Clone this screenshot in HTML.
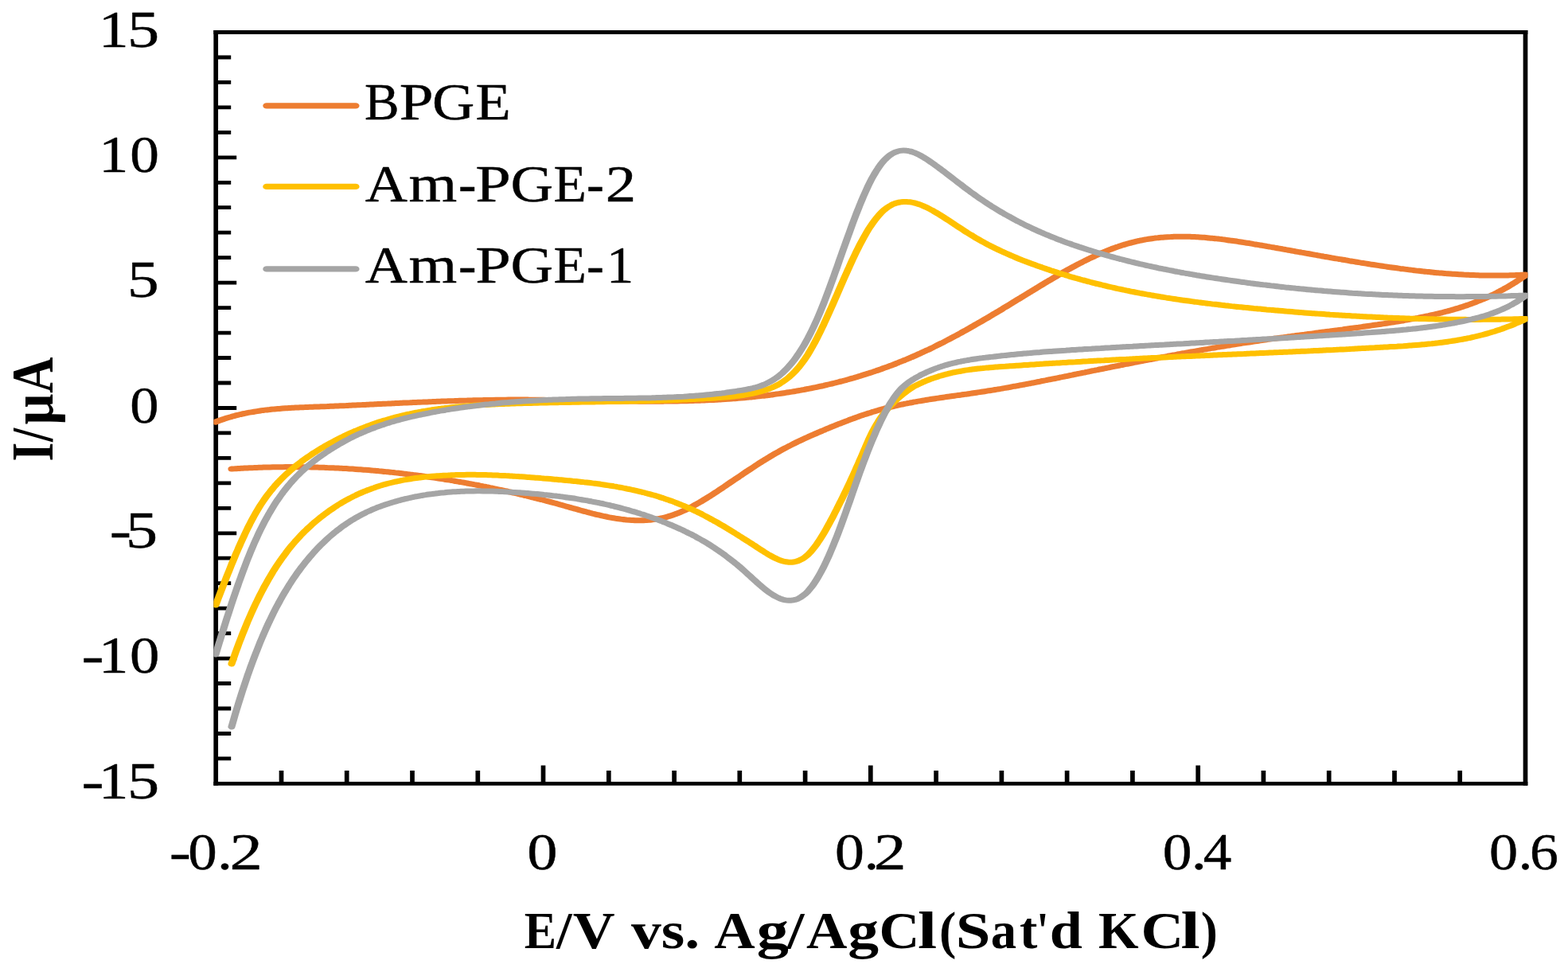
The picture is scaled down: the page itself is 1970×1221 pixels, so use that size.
<!DOCTYPE html>
<html lang="en"><head><meta charset="utf-8"><title>Cyclic voltammograms</title>
<style>html,body{margin:0;padding:0;background:#fff}svg{display:block;filter:blur(0.55px)}</style></head>
<body>
<svg width="1970" height="1221" viewBox="0 0 1970 1221">
<rect width="1970" height="1221" fill="#fff"/>
<path d="M268.35 40.5H1919.35M268.35 984.4H1919.35" stroke="#000" stroke-width="4.9" fill="none"/>
<path d="M271.2 38.05V986.85M1916.5 38.05V986.85" stroke="#000" stroke-width="5.7" fill="none"/>
<path d="M271.2 72.0h19M271.2 103.4h19M271.2 134.9h19M271.2 166.4h19M271.2 197.8h26M271.2 229.3h19M271.2 260.7h19M271.2 292.2h19M271.2 323.7h19M271.2 355.1h26M271.2 386.6h19M271.2 418.1h19M271.2 449.5h19M271.2 481.0h19M271.2 512.5h26M271.2 543.9h19M271.2 575.4h19M271.2 606.8h19M271.2 638.3h19M271.2 669.8h26M271.2 701.2h19M271.2 732.7h19M271.2 764.2h19M271.2 795.6h19M271.2 827.1h26M271.2 858.5h19M271.2 890.0h19M271.2 921.5h19M271.2 952.9h19" stroke="#000" stroke-width="4.8" fill="none"/>
<path d="M353.5 984.4v-16.5M435.7 984.4v-16.5M518.0 984.4v-16.5M600.3 984.4v-16.5M682.5 984.4v-23M764.8 984.4v-16.5M847.1 984.4v-16.5M929.3 984.4v-16.5M1011.6 984.4v-16.5M1093.8 984.4v-23M1176.1 984.4v-16.5M1258.4 984.4v-16.5M1340.6 984.4v-16.5M1422.9 984.4v-16.5M1505.2 984.4v-23M1587.4 984.4v-16.5M1669.7 984.4v-16.5M1752.0 984.4v-16.5M1834.2 984.4v-16.5" stroke="#000" stroke-width="5.7" fill="none"/>
<defs><clipPath id="cp"><rect x="268.35" y="38.05" width="1651.00" height="948.80"/></clipPath></defs>
<g clip-path="url(#cp)"><g transform="scale(1.3 1)" fill="none" stroke-width="7.0" stroke-linecap="round" stroke-linejoin="round">
<path stroke="#ED7D31" d="M208.5 530.0C209.5 529.5 210.5 529.0 211.5 528.5C212.6 528.0 213.6 527.6 214.6 527.1C215.6 526.7 216.7 526.2 217.7 525.8C218.7 525.4 219.7 524.9 220.8 524.5C221.8 524.1 222.8 523.8 223.8 523.4C224.9 523.0 225.9 522.6 226.9 522.3C227.9 521.9 229.0 521.6 230.0 521.3C231.0 521.0 232.1 520.6 233.1 520.3C234.1 520.0 235.1 519.7 236.2 519.5C237.2 519.2 238.2 518.9 239.2 518.6C240.3 518.4 241.3 518.1 242.3 517.9C243.3 517.7 244.4 517.4 245.4 517.2C246.4 517.0 247.4 516.8 248.5 516.6C249.5 516.4 250.5 516.2 251.5 516.0C252.6 515.8 253.6 515.6 254.6 515.4C255.6 515.3 256.7 515.1 257.7 514.9C258.7 514.8 259.7 514.6 260.8 514.5C261.8 514.3 262.8 514.2 263.8 514.1C264.9 513.9 265.9 513.8 266.9 513.7C267.9 513.6 269.0 513.5 270.0 513.4C271.0 513.3 272.1 513.2 273.1 513.1C274.1 513.0 275.1 512.9 276.2 512.8C277.2 512.7 278.2 512.6 279.2 512.5C280.3 512.5 281.3 512.4 282.3 512.3C283.3 512.2 284.4 512.2 285.4 512.1C286.4 512.0 287.4 512.0 288.5 511.9C289.5 511.8 290.5 511.8 291.5 511.7C292.6 511.7 293.6 511.6 294.6 511.6C295.6 511.5 296.7 511.5 297.7 511.4C298.7 511.4 299.7 511.3 300.8 511.3C301.8 511.2 302.8 511.2 303.8 511.1C304.9 511.1 305.9 511.0 306.9 511.0C307.9 510.9 309.0 510.9 310.0 510.8C311.0 510.8 312.1 510.7 313.1 510.7C314.1 510.6 315.1 510.5 316.2 510.5C317.2 510.4 318.2 510.4 319.2 510.3C320.3 510.3 321.3 510.2 322.3 510.2C323.3 510.1 324.4 510.1 325.4 510.0C326.4 509.9 327.4 509.9 328.5 509.8C329.5 509.8 330.5 509.7 331.5 509.7C332.6 509.6 333.6 509.5 334.6 509.5C335.6 509.4 336.7 509.4 337.7 509.3C338.7 509.2 339.7 509.2 340.8 509.1C341.8 509.1 342.8 509.0 343.8 508.9C344.9 508.9 345.9 508.8 346.9 508.8C347.9 508.7 349.0 508.6 350.0 508.6C351.0 508.5 352.1 508.4 353.1 508.4C354.1 508.3 355.1 508.3 356.2 508.2C357.2 508.1 358.2 508.1 359.2 508.0C360.3 507.9 361.3 507.9 362.3 507.8C363.3 507.8 364.4 507.7 365.4 507.6C366.4 507.6 367.4 507.5 368.5 507.4C369.5 507.4 370.5 507.3 371.5 507.3C372.6 507.2 373.6 507.1 374.6 507.1C375.6 507.0 376.7 506.9 377.7 506.9C378.7 506.8 379.7 506.8 380.8 506.7C381.8 506.6 382.8 506.6 383.8 506.5C384.9 506.4 385.9 506.4 386.9 506.3C387.9 506.3 389.0 506.2 390.0 506.1C391.0 506.1 392.1 506.0 393.1 506.0C394.1 505.9 395.1 505.8 396.2 505.8C397.2 505.7 398.2 505.7 399.2 505.6C400.3 505.5 401.3 505.5 402.3 505.4C403.3 505.4 404.4 505.3 405.4 505.3C406.4 505.2 407.4 505.1 408.5 505.1C409.5 505.0 410.5 505.0 411.5 504.9C412.6 504.9 413.6 504.8 414.6 504.7C415.6 504.7 416.7 504.6 417.7 504.6C418.7 504.5 419.7 504.5 420.8 504.4C421.8 504.4 422.8 504.3 423.8 504.3C424.9 504.2 425.9 504.2 426.9 504.1C427.9 504.1 429.0 504.0 430.0 504.0C431.0 503.9 432.1 503.9 433.1 503.8C434.1 503.8 435.1 503.7 436.2 503.7C437.2 503.6 438.2 503.6 439.2 503.6C440.3 503.5 441.3 503.5 442.3 503.4C443.3 503.4 444.4 503.3 445.4 503.3C446.4 503.3 447.4 503.2 448.5 503.2C449.5 503.1 450.5 503.1 451.5 503.1C452.6 503.0 453.6 503.0 454.6 503.0C455.6 502.9 456.7 502.9 457.7 502.8C458.7 502.8 459.7 502.8 460.8 502.8C461.8 502.7 462.8 502.7 463.8 502.7C464.9 502.6 465.9 502.6 466.9 502.6C467.9 502.5 469.0 502.5 470.0 502.5C471.0 502.5 472.1 502.4 473.1 502.4C474.1 502.4 475.1 502.4 476.2 502.4C477.2 502.3 478.2 502.3 479.2 502.3C480.3 502.3 481.3 502.3 482.3 502.2C483.3 502.2 484.4 502.2 485.4 502.2C486.4 502.2 487.4 502.2 488.5 502.2C489.5 502.2 490.5 502.2 491.5 502.1C492.6 502.1 493.6 502.1 494.6 502.1C495.6 502.1 496.7 502.1 497.7 502.1C498.7 502.1 499.7 502.1 500.8 502.1C501.8 502.1 502.8 502.1 503.8 502.1C504.9 502.1 505.9 502.1 506.9 502.1C507.9 502.1 509.0 502.1 510.0 502.1C511.0 502.1 512.1 502.2 513.1 502.2C514.1 502.2 515.1 502.2 516.2 502.2C517.2 502.2 518.2 502.2 519.2 502.2C520.3 502.2 521.3 502.2 522.3 502.3C523.3 502.3 524.4 502.3 525.4 502.3C526.4 502.3 527.4 502.3 528.5 502.4C529.5 502.4 530.5 502.4 531.5 502.4C532.6 502.4 533.6 502.4 534.6 502.5C535.6 502.5 536.7 502.5 537.7 502.5C538.7 502.5 539.7 502.6 540.8 502.6C541.8 502.6 542.8 502.6 543.8 502.7C544.9 502.7 545.9 502.7 546.9 502.7C547.9 502.7 549.0 502.8 550.0 502.8C551.0 502.8 552.1 502.8 553.1 502.9C554.1 502.9 555.1 502.9 556.2 502.9C557.2 503.0 558.2 503.0 559.2 503.0C560.3 503.0 561.3 503.1 562.3 503.1C563.3 503.1 564.4 503.1 565.4 503.2C566.4 503.2 567.4 503.2 568.5 503.2C569.5 503.3 570.5 503.3 571.5 503.3C572.6 503.3 573.6 503.4 574.6 503.4C575.6 503.4 576.7 503.4 577.7 503.5C578.7 503.5 579.7 503.5 580.8 503.5C581.8 503.6 582.8 503.6 583.8 503.6C584.9 503.6 585.9 503.6 586.9 503.7C587.9 503.7 589.0 503.7 590.0 503.7C591.0 503.8 592.1 503.8 593.1 503.8C594.1 503.8 595.1 503.8 596.2 503.9C597.2 503.9 598.2 503.9 599.2 503.9C600.3 503.9 601.3 503.9 602.3 504.0C603.3 504.0 604.4 504.0 605.4 504.0C606.4 504.0 607.4 504.0 608.5 504.1C609.5 504.1 610.5 504.1 611.5 504.1C612.6 504.1 613.6 504.1 614.6 504.1C615.6 504.1 616.7 504.1 617.7 504.2C618.7 504.2 619.7 504.2 620.8 504.2C621.8 504.2 622.8 504.2 623.8 504.2C624.9 504.2 625.9 504.2 626.9 504.2C627.9 504.2 629.0 504.2 630.0 504.2C631.0 504.2 632.1 504.2 633.1 504.2C634.1 504.2 635.1 504.2 636.2 504.2C637.2 504.2 638.2 504.2 639.2 504.2C640.3 504.2 641.3 504.1 642.3 504.1C643.3 504.1 644.4 504.1 645.4 504.1C646.4 504.1 647.4 504.1 648.5 504.0C649.5 504.0 650.5 504.0 651.5 504.0C652.6 504.0 653.6 503.9 654.6 503.9C655.6 503.9 656.7 503.9 657.7 503.8C658.7 503.8 659.7 503.8 660.8 503.8C661.8 503.7 662.8 503.7 663.8 503.7C664.9 503.6 665.9 503.6 666.9 503.6C667.9 503.5 669.0 503.5 670.0 503.4C671.0 503.4 672.1 503.3 673.1 503.3C674.1 503.3 675.1 503.2 676.2 503.2C677.2 503.1 678.2 503.1 679.2 503.0C680.3 502.9 681.3 502.9 682.3 502.8C683.3 502.8 684.4 502.7 685.4 502.6C686.4 502.6 687.4 502.5 688.5 502.4C689.5 502.4 690.5 502.3 691.5 502.2C692.6 502.2 693.6 502.1 694.6 502.0C695.6 501.9 696.7 501.9 697.7 501.8C698.7 501.7 699.7 501.6 700.8 501.5C701.8 501.4 702.8 501.3 703.8 501.3C704.9 501.2 705.9 501.1 706.9 501.0C707.9 500.9 709.0 500.8 710.0 500.7C711.0 500.6 712.1 500.5 713.1 500.3C714.1 500.2 715.1 500.1 716.2 500.0C717.2 499.9 718.2 499.8 719.2 499.7C720.3 499.5 721.3 499.4 722.3 499.3C723.3 499.2 724.4 499.0 725.4 498.9C726.4 498.8 727.4 498.6 728.5 498.5C729.5 498.4 730.5 498.2 731.5 498.1C732.6 497.9 733.6 497.8 734.6 497.6C735.6 497.5 736.7 497.3 737.7 497.2C738.7 497.0 739.7 496.9 740.8 496.7C741.8 496.5 742.8 496.4 743.8 496.2C744.9 496.0 745.9 495.9 746.9 495.7C747.9 495.5 749.0 495.3 750.0 495.1C751.0 495.0 752.1 494.8 753.1 494.6C754.1 494.4 755.1 494.2 756.2 494.0C757.2 493.8 758.2 493.6 759.2 493.4C760.3 493.2 761.3 493.0 762.3 492.8C763.3 492.6 764.4 492.3 765.4 492.1C766.4 491.9 767.4 491.7 768.5 491.5C769.5 491.2 770.5 491.0 771.5 490.8C772.6 490.5 773.6 490.3 774.6 490.0C775.6 489.8 776.7 489.6 777.7 489.3C778.7 489.1 779.7 488.8 780.8 488.5C781.8 488.3 782.8 488.0 783.8 487.8C784.9 487.5 785.9 487.2 786.9 486.9C787.9 486.7 789.0 486.4 790.0 486.1C791.0 485.8 792.1 485.5 793.1 485.2C794.1 485.0 795.1 484.7 796.2 484.4C797.2 484.1 798.2 483.7 799.2 483.4C800.3 483.1 801.3 482.8 802.3 482.5C803.3 482.2 804.4 481.9 805.4 481.5C806.4 481.2 807.4 480.9 808.5 480.5C809.5 480.2 810.5 479.9 811.5 479.5C812.6 479.2 813.6 478.8 814.6 478.5C815.6 478.1 816.7 477.8 817.7 477.4C818.7 477.0 819.7 476.7 820.8 476.3C821.8 475.9 822.8 475.5 823.8 475.2C824.9 474.8 825.9 474.4 826.9 474.0C827.9 473.6 829.0 473.2 830.0 472.8C831.0 472.4 832.1 472.0 833.1 471.6C834.1 471.2 835.1 470.8 836.2 470.3C837.2 469.9 838.2 469.5 839.2 469.1C840.3 468.6 841.3 468.2 842.3 467.8C843.3 467.3 844.4 466.9 845.4 466.4C846.4 466.0 847.4 465.5 848.5 465.1C849.5 464.6 850.5 464.1 851.5 463.7C852.6 463.2 853.6 462.7 854.6 462.2C855.6 461.7 856.7 461.3 857.7 460.8C858.7 460.3 859.7 459.8 860.8 459.3C861.8 458.8 862.8 458.3 863.8 457.8C864.9 457.3 865.9 456.7 866.9 456.2C867.9 455.7 869.0 455.2 870.0 454.6C871.0 454.1 872.1 453.6 873.1 453.0C874.1 452.5 875.1 451.9 876.2 451.4C877.2 450.8 878.2 450.3 879.2 449.7C880.3 449.1 881.3 448.5 882.3 448.0C883.3 447.4 884.4 446.8 885.4 446.2C886.4 445.6 887.4 445.0 888.5 444.4C889.5 443.8 890.5 443.2 891.5 442.6C892.6 442.0 893.6 441.4 894.6 440.8C895.6 440.2 896.7 439.5 897.7 438.9C898.7 438.3 899.7 437.6 900.8 437.0C901.8 436.4 902.8 435.7 903.8 435.0C904.9 434.4 905.9 433.7 906.9 433.1C907.9 432.4 909.0 431.7 910.0 431.1C911.0 430.4 912.1 429.7 913.1 429.0C914.1 428.3 915.1 427.6 916.2 426.9C917.2 426.2 918.2 425.5 919.2 424.8C920.3 424.1 921.3 423.4 922.3 422.7C923.3 422.0 924.4 421.3 925.4 420.6C926.4 419.8 927.4 419.1 928.5 418.4C929.5 417.6 930.5 416.9 931.5 416.2C932.6 415.4 933.6 414.7 934.6 413.9C935.6 413.2 936.7 412.4 937.7 411.7C938.7 410.9 939.7 410.2 940.8 409.4C941.8 408.7 942.8 407.9 943.8 407.1C944.9 406.4 945.9 405.6 946.9 404.8C947.9 404.1 949.0 403.3 950.0 402.5C951.0 401.7 952.1 400.9 953.1 400.2C954.1 399.4 955.1 398.6 956.2 397.8C957.2 397.0 958.2 396.2 959.2 395.4C960.3 394.6 961.3 393.8 962.3 393.1C963.3 392.3 964.4 391.5 965.4 390.7C966.4 389.9 967.4 389.1 968.5 388.3C969.5 387.4 970.5 386.6 971.5 385.8C972.6 385.0 973.6 384.2 974.6 383.4C975.6 382.6 976.7 381.8 977.7 381.0C978.7 380.2 979.7 379.4 980.8 378.5C981.8 377.7 982.8 376.9 983.8 376.1C984.9 375.3 985.9 374.5 986.9 373.7C987.9 372.8 989.0 372.0 990.0 371.2C991.0 370.4 992.1 369.6 993.1 368.8C994.1 367.9 995.1 367.1 996.2 366.3C997.2 365.5 998.2 364.7 999.2 363.9C1000.3 363.1 1001.3 362.3 1002.3 361.4C1003.3 360.6 1004.4 359.8 1005.4 359.0C1006.4 358.2 1007.4 357.4 1008.5 356.6C1009.5 355.8 1010.5 355.0 1011.5 354.2C1012.6 353.4 1013.6 352.6 1014.6 351.9C1015.6 351.1 1016.7 350.3 1017.7 349.5C1018.7 348.7 1019.7 347.9 1020.8 347.2C1021.8 346.4 1022.8 345.6 1023.8 344.9C1024.9 344.1 1025.9 343.3 1026.9 342.6C1027.9 341.8 1029.0 341.1 1030.0 340.3C1031.0 339.6 1032.1 338.8 1033.1 338.1C1034.1 337.4 1035.1 336.7 1036.2 335.9C1037.2 335.2 1038.2 334.5 1039.2 333.8C1040.3 333.1 1041.3 332.4 1042.3 331.7C1043.3 331.0 1044.4 330.3 1045.4 329.6C1046.4 328.9 1047.4 328.3 1048.5 327.6C1049.5 326.9 1050.5 326.3 1051.5 325.6C1052.6 325.0 1053.6 324.3 1054.6 323.7C1055.6 323.1 1056.7 322.5 1057.7 321.8C1058.7 321.2 1059.7 320.6 1060.8 320.0C1061.8 319.4 1062.8 318.8 1063.8 318.3C1064.9 317.7 1065.9 317.1 1066.9 316.6C1067.9 316.0 1069.0 315.5 1070.0 314.9C1071.0 314.4 1072.1 313.9 1073.1 313.4C1074.1 312.8 1075.1 312.3 1076.2 311.9C1077.2 311.4 1078.2 310.9 1079.2 310.4C1080.3 310.0 1081.3 309.5 1082.3 309.1C1083.3 308.6 1084.4 308.2 1085.4 307.8C1086.4 307.3 1087.4 306.9 1088.5 306.6C1089.5 306.2 1090.5 305.8 1091.5 305.4C1092.6 305.1 1093.6 304.7 1094.6 304.4C1095.6 304.0 1096.7 303.7 1097.7 303.4C1098.7 303.1 1099.7 302.8 1100.8 302.5C1101.8 302.2 1102.8 301.9 1103.8 301.7C1104.9 301.4 1105.9 301.2 1106.9 300.9C1107.9 300.7 1109.0 300.5 1110.0 300.3C1111.0 300.1 1112.1 299.9 1113.1 299.7C1114.1 299.5 1115.1 299.3 1116.2 299.1C1117.2 299.0 1118.2 298.8 1119.2 298.7C1120.3 298.5 1121.3 298.4 1122.3 298.3C1123.3 298.2 1124.4 298.1 1125.4 298.0C1126.4 297.9 1127.4 297.8 1128.5 297.7C1129.5 297.6 1130.5 297.5 1131.5 297.5C1132.6 297.4 1133.6 297.4 1134.6 297.3C1135.6 297.3 1136.7 297.2 1137.7 297.2C1138.7 297.2 1139.7 297.2 1140.8 297.2C1141.8 297.2 1142.8 297.2 1143.8 297.2C1144.9 297.2 1145.9 297.2 1146.9 297.2C1147.9 297.3 1149.0 297.3 1150.0 297.3C1151.0 297.4 1152.1 297.4 1153.1 297.5C1154.1 297.6 1155.1 297.6 1156.2 297.7C1157.2 297.8 1158.2 297.8 1159.2 297.9C1160.3 298.0 1161.3 298.1 1162.3 298.2C1163.3 298.3 1164.4 298.4 1165.4 298.5C1166.4 298.6 1167.4 298.8 1168.5 298.9C1169.5 299.0 1170.5 299.1 1171.5 299.3C1172.6 299.4 1173.6 299.6 1174.6 299.7C1175.6 299.8 1176.7 300.0 1177.7 300.1C1178.7 300.3 1179.7 300.5 1180.8 300.6C1181.8 300.8 1182.8 301.0 1183.8 301.1C1184.9 301.3 1185.9 301.5 1186.9 301.7C1187.9 301.9 1189.0 302.0 1190.0 302.2C1191.0 302.4 1192.1 302.6 1193.1 302.8C1194.1 303.0 1195.1 303.2 1196.2 303.4C1197.2 303.6 1198.2 303.8 1199.2 304.0C1200.3 304.2 1201.3 304.4 1202.3 304.6C1203.3 304.9 1204.4 305.1 1205.4 305.3C1206.4 305.5 1207.4 305.7 1208.5 305.9C1209.5 306.2 1210.5 306.4 1211.5 306.6C1212.6 306.8 1213.6 307.1 1214.6 307.3C1215.6 307.5 1216.7 307.7 1217.7 308.0C1218.7 308.2 1219.7 308.4 1220.8 308.6C1221.8 308.9 1222.8 309.1 1223.8 309.3C1224.9 309.6 1225.9 309.8 1226.9 310.0C1227.9 310.3 1229.0 310.5 1230.0 310.7C1231.0 311.0 1232.1 311.2 1233.1 311.4C1234.1 311.7 1235.1 311.9 1236.2 312.1C1237.2 312.4 1238.2 312.6 1239.2 312.8C1240.3 313.1 1241.3 313.3 1242.3 313.5C1243.3 313.8 1244.4 314.0 1245.4 314.3C1246.4 314.5 1247.4 314.7 1248.5 315.0C1249.5 315.2 1250.5 315.4 1251.5 315.7C1252.6 315.9 1253.6 316.2 1254.6 316.4C1255.6 316.6 1256.7 316.9 1257.7 317.1C1258.7 317.3 1259.7 317.6 1260.8 317.8C1261.8 318.1 1262.8 318.3 1263.8 318.5C1264.9 318.8 1265.9 319.0 1266.9 319.2C1267.9 319.5 1269.0 319.7 1270.0 320.0C1271.0 320.2 1272.1 320.4 1273.1 320.7C1274.1 320.9 1275.1 321.1 1276.2 321.4C1277.2 321.6 1278.2 321.9 1279.2 322.1C1280.3 322.3 1281.3 322.6 1282.3 322.8C1283.3 323.0 1284.4 323.3 1285.4 323.5C1286.4 323.7 1287.4 324.0 1288.5 324.2C1289.5 324.4 1290.5 324.7 1291.5 324.9C1292.6 325.1 1293.6 325.3 1294.6 325.6C1295.6 325.8 1296.7 326.0 1297.7 326.3C1298.7 326.5 1299.7 326.7 1300.8 326.9C1301.8 327.2 1302.8 327.4 1303.8 327.6C1304.9 327.8 1305.9 328.1 1306.9 328.3C1307.9 328.5 1309.0 328.7 1310.0 329.0C1311.0 329.2 1312.1 329.4 1313.1 329.6C1314.1 329.8 1315.1 330.0 1316.2 330.3C1317.2 330.5 1318.2 330.7 1319.2 330.9C1320.3 331.1 1321.3 331.3 1322.3 331.5C1323.3 331.7 1324.4 332.0 1325.4 332.2C1326.4 332.4 1327.4 332.6 1328.5 332.8C1329.5 333.0 1330.5 333.2 1331.5 333.4C1332.6 333.6 1333.6 333.8 1334.6 334.0C1335.6 334.2 1336.7 334.4 1337.7 334.6C1338.7 334.8 1339.7 335.0 1340.8 335.2C1341.8 335.4 1342.8 335.5 1343.8 335.7C1344.9 335.9 1345.9 336.1 1346.9 336.3C1347.9 336.5 1349.0 336.7 1350.0 336.8C1351.0 337.0 1352.1 337.2 1353.1 337.4C1354.1 337.5 1355.1 337.7 1356.2 337.9C1357.2 338.1 1358.2 338.2 1359.2 338.4C1360.3 338.6 1361.3 338.7 1362.3 338.9C1363.3 339.1 1364.4 339.2 1365.4 339.4C1366.4 339.6 1367.4 339.7 1368.5 339.9C1369.5 340.0 1370.5 340.2 1371.5 340.3C1372.6 340.5 1373.6 340.6 1374.6 340.8C1375.6 340.9 1376.7 341.1 1377.7 341.2C1378.7 341.3 1379.7 341.5 1380.8 341.6C1381.8 341.7 1382.8 341.9 1383.8 342.0C1384.9 342.1 1385.9 342.3 1386.9 342.4C1387.9 342.5 1389.0 342.6 1390.0 342.8C1391.0 342.9 1392.1 343.0 1393.1 343.1C1394.1 343.2 1395.1 343.3 1396.2 343.4C1397.2 343.5 1398.2 343.7 1399.2 343.8C1400.3 343.9 1401.3 344.0 1402.3 344.1C1403.3 344.2 1404.4 344.2 1405.4 344.3C1406.4 344.4 1407.4 344.5 1408.5 344.6C1409.5 344.7 1410.5 344.8 1411.5 344.8C1412.6 344.9 1413.6 345.0 1414.6 345.1C1415.6 345.1 1416.7 345.2 1417.7 345.3C1418.7 345.3 1419.7 345.4 1420.8 345.4C1421.8 345.5 1422.8 345.6 1423.8 345.6C1424.9 345.7 1425.9 345.7 1426.9 345.7C1427.9 345.8 1429.0 345.8 1430.0 345.9C1431.0 345.9 1432.1 345.9 1433.1 346.0C1434.1 346.0 1435.1 346.0 1436.2 346.0C1437.2 346.1 1438.2 346.1 1439.2 346.1C1440.3 346.1 1441.3 346.1 1442.3 346.1C1443.3 346.1 1444.4 346.1 1445.4 346.1C1446.4 346.1 1447.4 346.1 1448.5 346.1C1449.5 346.1 1450.5 346.1 1451.5 346.1C1452.6 346.1 1453.6 346.0 1454.6 346.0C1455.6 346.0 1456.7 346.0 1457.7 345.9C1458.7 345.9 1459.7 345.8 1460.8 345.8C1461.8 345.8 1462.8 345.7 1463.8 345.7C1464.9 345.6 1465.9 345.6 1466.9 345.5C1467.9 345.4 1469.0 345.4 1470.0 345.3C1471.0 345.2 1472.1 345.2 1473.1 345.1C1473.5 345.1 1473.8 345.0 1474.2 345.0"/>
<path stroke="#ED7D31" d="M1474.2 346.0C1473.8 346.4 1473.5 346.7 1473.1 347.1C1472.1 348.0 1471.0 348.9 1470.0 349.8C1469.0 350.7 1467.9 351.6 1466.9 352.5C1465.9 353.4 1464.9 354.2 1463.8 355.1C1462.8 355.9 1461.8 356.7 1460.8 357.5C1459.7 358.3 1458.7 359.1 1457.7 359.9C1456.7 360.7 1455.6 361.4 1454.6 362.2C1453.6 362.9 1452.6 363.7 1451.5 364.4C1450.5 365.1 1449.5 365.8 1448.5 366.5C1447.4 367.2 1446.4 367.9 1445.4 368.5C1444.4 369.2 1443.3 369.9 1442.3 370.5C1441.3 371.1 1440.3 371.8 1439.2 372.4C1438.2 373.0 1437.2 373.6 1436.2 374.2C1435.1 374.7 1434.1 375.3 1433.1 375.9C1432.1 376.4 1431.0 377.0 1430.0 377.5C1429.0 378.1 1427.9 378.6 1426.9 379.1C1425.9 379.6 1424.9 380.1 1423.8 380.6C1422.8 381.1 1421.8 381.6 1420.8 382.1C1419.7 382.6 1418.7 383.0 1417.7 383.5C1416.7 384.0 1415.6 384.4 1414.6 384.8C1413.6 385.3 1412.6 385.7 1411.5 386.1C1410.5 386.6 1409.5 387.0 1408.5 387.4C1407.4 387.8 1406.4 388.2 1405.4 388.6C1404.4 388.9 1403.3 389.3 1402.3 389.7C1401.3 390.1 1400.3 390.4 1399.2 390.8C1398.2 391.1 1397.2 391.5 1396.2 391.8C1395.1 392.2 1394.1 392.5 1393.1 392.9C1392.1 393.2 1391.0 393.5 1390.0 393.8C1389.0 394.1 1387.9 394.5 1386.9 394.8C1385.9 395.1 1384.9 395.4 1383.8 395.7C1382.8 396.0 1381.8 396.3 1380.8 396.6C1379.7 396.8 1378.7 397.1 1377.7 397.4C1376.7 397.7 1375.6 398.0 1374.6 398.2C1373.6 398.5 1372.6 398.8 1371.5 399.0C1370.5 399.3 1369.5 399.6 1368.5 399.8C1367.4 400.1 1366.4 400.3 1365.4 400.6C1364.4 400.8 1363.3 401.1 1362.3 401.3C1361.3 401.5 1360.3 401.8 1359.2 402.0C1358.2 402.3 1357.2 402.5 1356.2 402.7C1355.1 402.9 1354.1 403.2 1353.1 403.4C1352.1 403.6 1351.0 403.8 1350.0 404.1C1349.0 404.3 1347.9 404.5 1346.9 404.7C1345.9 404.9 1344.9 405.1 1343.8 405.3C1342.8 405.5 1341.8 405.8 1340.8 406.0C1339.7 406.2 1338.7 406.4 1337.7 406.6C1336.7 406.8 1335.6 407.0 1334.6 407.2C1333.6 407.4 1332.6 407.6 1331.5 407.8C1330.5 407.9 1329.5 408.1 1328.5 408.3C1327.4 408.5 1326.4 408.7 1325.4 408.9C1324.4 409.1 1323.3 409.3 1322.3 409.5C1321.3 409.7 1320.3 409.9 1319.2 410.0C1318.2 410.2 1317.2 410.4 1316.2 410.6C1315.1 410.8 1314.1 411.0 1313.1 411.2C1312.1 411.3 1311.0 411.5 1310.0 411.7C1309.0 411.9 1307.9 412.1 1306.9 412.2C1305.9 412.4 1304.9 412.6 1303.8 412.8C1302.8 413.0 1301.8 413.1 1300.8 413.3C1299.7 413.5 1298.7 413.7 1297.7 413.9C1296.7 414.0 1295.6 414.2 1294.6 414.4C1293.6 414.6 1292.6 414.7 1291.5 414.9C1290.5 415.1 1289.5 415.3 1288.5 415.4C1287.4 415.6 1286.4 415.8 1285.4 416.0C1284.4 416.1 1283.3 416.3 1282.3 416.5C1281.3 416.7 1280.3 416.8 1279.2 417.0C1278.2 417.2 1277.2 417.4 1276.2 417.5C1275.1 417.7 1274.1 417.9 1273.1 418.1C1272.1 418.2 1271.0 418.4 1270.0 418.6C1269.0 418.8 1267.9 418.9 1266.9 419.1C1265.9 419.3 1264.9 419.5 1263.8 419.6C1262.8 419.8 1261.8 420.0 1260.8 420.2C1259.7 420.3 1258.7 420.5 1257.7 420.7C1256.7 420.9 1255.6 421.0 1254.6 421.2C1253.6 421.4 1252.6 421.6 1251.5 421.8C1250.5 421.9 1249.5 422.1 1248.5 422.3C1247.4 422.5 1246.4 422.7 1245.4 422.8C1244.4 423.0 1243.3 423.2 1242.3 423.4C1241.3 423.6 1240.3 423.7 1239.2 423.9C1238.2 424.1 1237.2 424.3 1236.2 424.5C1235.1 424.7 1234.1 424.8 1233.1 425.0C1232.1 425.2 1231.0 425.4 1230.0 425.6C1229.0 425.8 1227.9 426.0 1226.9 426.1C1225.9 426.3 1224.9 426.5 1223.8 426.7C1222.8 426.9 1221.8 427.1 1220.8 427.3C1219.7 427.5 1218.7 427.7 1217.7 427.9C1216.7 428.1 1215.6 428.3 1214.6 428.5C1213.6 428.7 1212.6 428.9 1211.5 429.1C1210.5 429.3 1209.5 429.5 1208.5 429.7C1207.4 429.9 1206.4 430.1 1205.4 430.3C1204.4 430.5 1203.3 430.7 1202.3 430.9C1201.3 431.1 1200.3 431.3 1199.2 431.5C1198.2 431.7 1197.2 431.9 1196.2 432.1C1195.1 432.4 1194.1 432.6 1193.1 432.8C1192.1 433.0 1191.0 433.2 1190.0 433.4C1189.0 433.6 1187.9 433.9 1186.9 434.1C1185.9 434.3 1184.9 434.5 1183.8 434.7C1182.8 434.9 1181.8 435.2 1180.8 435.4C1179.7 435.6 1178.7 435.8 1177.7 436.0C1176.7 436.3 1175.6 436.5 1174.6 436.7C1173.6 436.9 1172.6 437.2 1171.5 437.4C1170.5 437.6 1169.5 437.8 1168.5 438.1C1167.4 438.3 1166.4 438.5 1165.4 438.8C1164.4 439.0 1163.3 439.2 1162.3 439.5C1161.3 439.7 1160.3 439.9 1159.2 440.2C1158.2 440.4 1157.2 440.6 1156.2 440.9C1155.1 441.1 1154.1 441.3 1153.1 441.6C1152.1 441.8 1151.0 442.0 1150.0 442.3C1149.0 442.5 1147.9 442.8 1146.9 443.0C1145.9 443.2 1144.9 443.5 1143.8 443.7C1142.8 444.0 1141.8 444.2 1140.8 444.4C1139.7 444.7 1138.7 444.9 1137.7 445.2C1136.7 445.4 1135.6 445.7 1134.6 445.9C1133.6 446.2 1132.6 446.4 1131.5 446.6C1130.5 446.9 1129.5 447.1 1128.5 447.4C1127.4 447.6 1126.4 447.9 1125.4 448.1C1124.4 448.4 1123.3 448.6 1122.3 448.9C1121.3 449.1 1120.3 449.4 1119.2 449.6C1118.2 449.9 1117.2 450.1 1116.2 450.4C1115.1 450.7 1114.1 450.9 1113.1 451.2C1112.1 451.4 1111.0 451.7 1110.0 451.9C1109.0 452.2 1107.9 452.4 1106.9 452.7C1105.9 453.0 1104.9 453.2 1103.8 453.5C1102.8 453.7 1101.8 454.0 1100.8 454.2C1099.7 454.5 1098.7 454.8 1097.7 455.0C1096.7 455.3 1095.6 455.5 1094.6 455.8C1093.6 456.1 1092.6 456.3 1091.5 456.6C1090.5 456.9 1089.5 457.1 1088.5 457.4C1087.4 457.6 1086.4 457.9 1085.4 458.2C1084.4 458.4 1083.3 458.7 1082.3 459.0C1081.3 459.2 1080.3 459.5 1079.2 459.8C1078.2 460.0 1077.2 460.3 1076.2 460.5C1075.1 460.8 1074.1 461.1 1073.1 461.3C1072.1 461.6 1071.0 461.9 1070.0 462.1C1069.0 462.4 1067.9 462.7 1066.9 463.0C1065.9 463.2 1064.9 463.5 1063.8 463.8C1062.8 464.0 1061.8 464.3 1060.8 464.6C1059.7 464.8 1058.7 465.1 1057.7 465.4C1056.7 465.6 1055.6 465.9 1054.6 466.2C1053.6 466.5 1052.6 466.7 1051.5 467.0C1050.5 467.3 1049.5 467.5 1048.5 467.8C1047.4 468.1 1046.4 468.3 1045.4 468.6C1044.4 468.9 1043.3 469.2 1042.3 469.4C1041.3 469.7 1040.3 470.0 1039.2 470.2C1038.2 470.5 1037.2 470.8 1036.2 471.1C1035.1 471.3 1034.1 471.6 1033.1 471.9C1032.1 472.2 1031.0 472.4 1030.0 472.7C1029.0 473.0 1027.9 473.2 1026.9 473.5C1025.9 473.8 1024.9 474.0 1023.8 474.3C1022.8 474.6 1021.8 474.9 1020.8 475.1C1019.7 475.4 1018.7 475.7 1017.7 475.9C1016.7 476.2 1015.6 476.5 1014.6 476.7C1013.6 477.0 1012.6 477.3 1011.5 477.5C1010.5 477.8 1009.5 478.1 1008.5 478.3C1007.4 478.6 1006.4 478.9 1005.4 479.1C1004.4 479.4 1003.3 479.6 1002.3 479.9C1001.3 480.2 1000.3 480.4 999.2 480.7C998.2 480.9 997.2 481.2 996.2 481.5C995.1 481.7 994.1 482.0 993.1 482.2C992.1 482.5 991.0 482.7 990.0 483.0C989.0 483.2 987.9 483.5 986.9 483.7C985.9 484.0 984.9 484.2 983.8 484.5C982.8 484.7 981.8 485.0 980.8 485.2C979.7 485.5 978.7 485.7 977.7 485.9C976.7 486.2 975.6 486.4 974.6 486.7C973.6 486.9 972.6 487.1 971.5 487.4C970.5 487.6 969.5 487.8 968.5 488.1C967.4 488.3 966.4 488.5 965.4 488.8C964.4 489.0 963.3 489.2 962.3 489.4C961.3 489.7 960.3 489.9 959.2 490.1C958.2 490.3 957.2 490.5 956.2 490.7C955.1 491.0 954.1 491.2 953.1 491.4C952.1 491.6 951.0 491.8 950.0 492.0C949.0 492.2 947.9 492.4 946.9 492.6C945.9 492.8 944.9 493.0 943.8 493.2C942.8 493.4 941.8 493.6 940.8 493.8C939.7 494.0 938.7 494.2 937.7 494.4C936.7 494.6 935.6 494.8 934.6 495.0C933.6 495.1 932.6 495.3 931.5 495.5C930.5 495.7 929.5 495.9 928.5 496.1C927.4 496.3 926.4 496.5 925.4 496.6C924.4 496.8 923.3 497.0 922.3 497.2C921.3 497.4 920.3 497.6 919.2 497.8C918.2 498.0 917.2 498.1 916.2 498.3C915.1 498.5 914.1 498.7 913.1 498.9C912.1 499.1 911.0 499.3 910.0 499.5C909.0 499.7 907.9 499.9 906.9 500.1C905.9 500.3 904.9 500.5 903.8 500.7C902.8 500.9 901.8 501.1 900.8 501.3C899.7 501.5 898.7 501.7 897.7 501.9C896.7 502.1 895.6 502.3 894.6 502.5C893.6 502.8 892.6 503.0 891.5 503.2C890.5 503.4 889.5 503.7 888.5 503.9C887.4 504.1 886.4 504.3 885.4 504.6C884.4 504.8 883.3 505.1 882.3 505.3C881.3 505.6 880.3 505.8 879.2 506.1C878.2 506.3 877.2 506.6 876.2 506.9C875.1 507.1 874.1 507.4 873.1 507.7C872.1 507.9 871.0 508.2 870.0 508.5C869.0 508.8 867.9 509.1 866.9 509.4C865.9 509.7 864.9 510.0 863.8 510.3C862.8 510.6 861.8 510.9 860.8 511.3C859.7 511.6 858.7 511.9 857.7 512.3C856.7 512.6 855.6 512.9 854.6 513.3C853.6 513.6 852.6 514.0 851.5 514.4C850.5 514.7 849.5 515.1 848.5 515.5C847.4 515.9 846.4 516.3 845.4 516.7C844.4 517.1 843.3 517.5 842.3 517.9C841.3 518.3 840.3 518.7 839.2 519.1C838.2 519.6 837.2 520.0 836.2 520.4C835.1 520.9 834.1 521.3 833.1 521.8C832.1 522.2 831.0 522.7 830.0 523.2C829.0 523.6 827.9 524.1 826.9 524.6C825.9 525.1 824.9 525.6 823.8 526.1C822.8 526.6 821.8 527.0 820.8 527.5C819.7 528.1 818.7 528.6 817.7 529.1C816.7 529.6 815.6 530.1 814.6 530.6C813.6 531.1 812.6 531.7 811.5 532.2C810.5 532.7 809.5 533.2 808.5 533.8C807.4 534.3 806.4 534.9 805.4 535.4C804.4 535.9 803.3 536.5 802.3 537.0C801.3 537.6 800.3 538.1 799.2 538.7C798.2 539.2 797.2 539.8 796.2 540.4C795.1 540.9 794.1 541.5 793.1 542.0C792.1 542.6 791.0 543.2 790.0 543.7C789.0 544.3 787.9 544.9 786.9 545.5C785.9 546.1 784.9 546.6 783.8 547.2C782.8 547.8 781.8 548.4 780.8 549.0C779.7 549.6 778.7 550.2 777.7 550.8C776.7 551.4 775.6 552.1 774.6 552.7C773.6 553.3 772.6 553.9 771.5 554.6C770.5 555.2 769.5 555.9 768.5 556.5C767.4 557.2 766.4 557.8 765.4 558.5C764.4 559.2 763.3 559.9 762.3 560.5C761.3 561.2 760.3 561.9 759.2 562.6C758.2 563.3 757.2 564.0 756.2 564.7C755.1 565.5 754.1 566.2 753.1 566.9C752.1 567.7 751.0 568.4 750.0 569.2C749.0 569.9 747.9 570.7 746.9 571.5C745.9 572.3 744.9 573.1 743.8 573.9C742.8 574.7 741.8 575.5 740.8 576.3C739.7 577.1 738.7 577.9 737.7 578.8C736.7 579.6 735.6 580.4 734.6 581.3C733.6 582.1 732.6 583.0 731.5 583.9C730.5 584.7 729.5 585.6 728.5 586.5C727.4 587.3 726.4 588.2 725.4 589.1C724.4 590.0 723.3 590.9 722.3 591.7C721.3 592.6 720.3 593.5 719.2 594.4C718.2 595.3 717.2 596.2 716.2 597.1C715.1 598.0 714.1 598.9 713.1 599.8C712.1 600.7 711.0 601.6 710.0 602.5C709.0 603.4 707.9 604.3 706.9 605.2C705.9 606.1 704.9 607.0 703.8 607.9C702.8 608.8 701.8 609.7 700.8 610.6C699.7 611.5 698.7 612.4 697.7 613.3C696.7 614.2 695.6 615.1 694.6 616.0C693.6 616.9 692.6 617.8 691.5 618.6C690.5 619.5 689.5 620.4 688.5 621.2C687.4 622.1 686.4 622.9 685.4 623.8C684.4 624.6 683.3 625.4 682.3 626.3C681.3 627.1 680.3 627.9 679.2 628.7C678.2 629.5 677.2 630.3 676.2 631.0C675.1 631.8 674.1 632.6 673.1 633.3C672.1 634.1 671.0 634.8 670.0 635.5C669.0 636.2 667.9 636.9 666.9 637.6C665.9 638.3 664.9 639.0 663.8 639.6C662.8 640.3 661.8 640.9 660.8 641.5C659.7 642.1 658.7 642.7 657.7 643.3C656.7 643.8 655.6 644.4 654.6 644.9C653.6 645.4 652.6 645.9 651.5 646.4C650.5 646.9 649.5 647.3 648.5 647.7C647.4 648.2 646.4 648.6 645.4 648.9C644.4 649.3 643.3 649.7 642.3 650.0C641.3 650.3 640.3 650.6 639.2 650.9C638.2 651.2 637.2 651.5 636.2 651.7C635.1 651.9 634.1 652.1 633.1 652.3C632.1 652.5 631.0 652.7 630.0 652.9C629.0 653.0 627.9 653.1 626.9 653.3C625.9 653.4 624.9 653.5 623.8 653.5C622.8 653.6 621.8 653.7 620.8 653.7C619.7 653.7 618.7 653.7 617.7 653.7C616.7 653.7 615.6 653.7 614.6 653.7C613.6 653.7 612.6 653.6 611.5 653.5C610.5 653.5 609.5 653.4 608.5 653.3C607.4 653.2 606.4 653.1 605.4 653.0C604.4 652.8 603.3 652.7 602.3 652.5C601.3 652.4 600.3 652.2 599.2 652.0C598.2 651.9 597.2 651.7 596.2 651.5C595.1 651.3 594.1 651.0 593.1 650.8C592.1 650.6 591.0 650.4 590.0 650.1C589.0 649.9 587.9 649.6 586.9 649.3C585.9 649.1 584.9 648.8 583.8 648.5C582.8 648.2 581.8 647.9 580.8 647.6C579.7 647.3 578.7 647.0 577.7 646.7C576.7 646.4 575.6 646.1 574.6 645.7C573.6 645.4 572.6 645.1 571.5 644.7C570.5 644.4 569.5 644.0 568.5 643.7C567.4 643.3 566.4 643.0 565.4 642.6C564.4 642.3 563.3 641.9 562.3 641.5C561.3 641.2 560.3 640.8 559.2 640.4C558.2 640.1 557.2 639.7 556.2 639.3C555.1 638.9 554.1 638.6 553.1 638.2C552.1 637.8 551.0 637.4 550.0 637.1C549.0 636.7 547.9 636.3 546.9 635.9C545.9 635.5 544.9 635.2 543.8 634.8C542.8 634.4 541.8 634.1 540.8 633.7C539.7 633.3 538.7 633.0 537.7 632.6C536.7 632.2 535.6 631.9 534.6 631.5C533.6 631.1 532.6 630.8 531.5 630.4C530.5 630.1 529.5 629.7 528.5 629.4C527.4 629.0 526.4 628.7 525.4 628.3C524.4 628.0 523.3 627.6 522.3 627.3C521.3 626.9 520.3 626.6 519.2 626.3C518.2 625.9 517.2 625.6 516.2 625.3C515.1 624.9 514.1 624.6 513.1 624.3C512.1 623.9 511.0 623.6 510.0 623.3C509.0 623.0 507.9 622.6 506.9 622.3C505.9 622.0 504.9 621.7 503.8 621.4C502.8 621.0 501.8 620.7 500.8 620.4C499.7 620.1 498.7 619.8 497.7 619.5C496.7 619.2 495.6 618.9 494.6 618.6C493.6 618.2 492.6 617.9 491.5 617.6C490.5 617.3 489.5 617.0 488.5 616.8C487.4 616.5 486.4 616.2 485.4 615.9C484.4 615.6 483.3 615.3 482.3 615.0C481.3 614.7 480.3 614.4 479.2 614.1C478.2 613.9 477.2 613.6 476.2 613.3C475.1 613.0 474.1 612.8 473.1 612.5C472.1 612.2 471.0 611.9 470.0 611.7C469.0 611.4 467.9 611.1 466.9 610.9C465.9 610.6 464.9 610.3 463.8 610.1C462.8 609.8 461.8 609.5 460.8 609.3C459.7 609.0 458.7 608.8 457.7 608.5C456.7 608.3 455.6 608.0 454.6 607.8C453.6 607.5 452.6 607.3 451.5 607.0C450.5 606.8 449.5 606.5 448.5 606.3C447.4 606.1 446.4 605.8 445.4 605.6C444.4 605.4 443.3 605.1 442.3 604.9C441.3 604.7 440.3 604.4 439.2 604.2C438.2 604.0 437.2 603.8 436.2 603.5C435.1 603.3 434.1 603.1 433.1 602.9C432.1 602.7 431.0 602.4 430.0 602.2C429.0 602.0 427.9 601.8 426.9 601.6C425.9 601.4 424.9 601.2 423.8 601.0C422.8 600.8 421.8 600.6 420.8 600.4C419.7 600.2 418.7 600.0 417.7 599.8C416.7 599.6 415.6 599.4 414.6 599.2C413.6 599.0 412.6 598.8 411.5 598.6C410.5 598.4 409.5 598.2 408.5 598.1C407.4 597.9 406.4 597.7 405.4 597.5C404.4 597.3 403.3 597.2 402.3 597.0C401.3 596.8 400.3 596.6 399.2 596.5C398.2 596.3 397.2 596.1 396.2 596.0C395.1 595.8 394.1 595.6 393.1 595.5C392.1 595.3 391.0 595.1 390.0 595.0C389.0 594.8 387.9 594.7 386.9 594.5C385.9 594.4 384.9 594.2 383.8 594.1C382.8 593.9 381.8 593.8 380.8 593.6C379.7 593.5 378.7 593.3 377.7 593.2C376.7 593.1 375.6 592.9 374.6 592.8C373.6 592.7 372.6 592.5 371.5 592.4C370.5 592.3 369.5 592.1 368.5 592.0C367.4 591.9 366.4 591.8 365.4 591.6C364.4 591.5 363.3 591.4 362.3 591.3C361.3 591.2 360.3 591.0 359.2 590.9C358.2 590.8 357.2 590.7 356.2 590.6C355.1 590.5 354.1 590.4 353.1 590.3C352.1 590.2 351.0 590.1 350.0 590.0C349.0 589.9 347.9 589.8 346.9 589.7C345.9 589.6 344.9 589.5 343.8 589.4C342.8 589.3 341.8 589.2 340.8 589.1C339.7 589.1 338.7 589.0 337.7 588.9C336.7 588.8 335.6 588.7 334.6 588.6C333.6 588.6 332.6 588.5 331.5 588.4C330.5 588.3 329.5 588.3 328.5 588.2C327.4 588.1 326.4 588.1 325.4 588.0C324.4 587.9 323.3 587.9 322.3 587.8C321.3 587.8 320.3 587.7 319.2 587.7C318.2 587.6 317.2 587.5 316.2 587.5C315.1 587.4 314.1 587.4 313.1 587.3C312.1 587.3 311.0 587.3 310.0 587.2C309.0 587.2 307.9 587.1 306.9 587.1C305.9 587.1 304.9 587.0 303.8 587.0C302.8 587.0 301.8 586.9 300.8 586.9C299.7 586.9 298.7 586.8 297.7 586.8C296.7 586.8 295.6 586.8 294.6 586.8C293.6 586.7 292.6 586.7 291.5 586.7C290.5 586.7 289.5 586.7 288.5 586.7C287.4 586.7 286.4 586.6 285.4 586.6C284.4 586.6 283.3 586.6 282.3 586.6C281.3 586.6 280.3 586.6 279.2 586.6C278.2 586.6 277.2 586.6 276.2 586.6C275.1 586.7 274.1 586.7 273.1 586.7C272.1 586.7 271.0 586.7 270.0 586.7C269.0 586.7 267.9 586.8 266.9 586.8C265.9 586.8 264.9 586.8 263.8 586.8C262.8 586.9 261.8 586.9 260.8 586.9C259.7 587.0 258.7 587.0 257.7 587.0C256.7 587.1 255.6 587.1 254.6 587.1C253.6 587.2 252.6 587.2 251.5 587.3C250.5 587.3 249.5 587.4 248.5 587.4C247.4 587.5 246.4 587.5 245.4 587.6C244.4 587.6 243.3 587.7 242.3 587.7C241.3 587.8 240.3 587.8 239.2 587.9C238.2 588.0 237.2 588.0 236.2 588.1C235.1 588.2 234.1 588.2 233.1 588.3C232.1 588.4 231.0 588.4 230.0 588.5C229.0 588.6 227.9 588.7 226.9 588.8C225.9 588.8 224.9 588.9 223.8 589.0"/>
<path stroke="#FFC000" d="M208.5 760.0C209.5 756.5 210.5 753.0 211.5 749.6C212.6 746.1 213.6 742.6 214.6 739.2C215.6 735.8 216.7 732.4 217.7 729.0C218.7 725.6 219.7 722.2 220.8 718.9C221.8 715.6 222.8 712.3 223.8 709.0C224.9 705.8 225.9 702.6 226.9 699.4C227.9 696.2 229.0 693.1 230.0 690.0C231.0 686.9 232.1 683.9 233.1 680.9C234.1 678.0 235.1 675.1 236.2 672.2C237.2 669.4 238.2 666.6 239.2 663.9C240.3 661.2 241.3 658.5 242.3 656.0C243.3 653.4 244.4 650.9 245.4 648.5C246.4 646.1 247.4 643.8 248.5 641.5C249.5 639.3 250.5 637.1 251.5 635.0C252.6 632.9 253.6 630.9 254.6 629.0C255.6 627.0 256.7 625.1 257.7 623.3C258.7 621.5 259.7 619.8 260.8 618.1C261.8 616.4 262.8 614.7 263.8 613.2C264.9 611.6 265.9 610.0 266.9 608.6C267.9 607.1 269.0 605.6 270.0 604.2C271.0 602.8 272.1 601.5 273.1 600.2C274.1 598.9 275.1 597.6 276.2 596.3C277.2 595.1 278.2 593.9 279.2 592.7C280.3 591.5 281.3 590.3 282.3 589.2C283.3 588.0 284.4 586.9 285.4 585.8C286.4 584.8 287.4 583.7 288.5 582.7C289.5 581.6 290.5 580.6 291.5 579.6C292.6 578.6 293.6 577.6 294.6 576.7C295.6 575.7 296.7 574.8 297.7 573.9C298.7 573.0 299.7 572.1 300.8 571.2C301.8 570.3 302.8 569.4 303.8 568.6C304.9 567.7 305.9 566.9 306.9 566.0C307.9 565.2 309.0 564.4 310.0 563.6C311.0 562.8 312.1 562.0 313.1 561.2C314.1 560.4 315.1 559.7 316.2 558.9C317.2 558.2 318.2 557.4 319.2 556.7C320.3 555.9 321.3 555.2 322.3 554.5C323.3 553.8 324.4 553.1 325.4 552.4C326.4 551.7 327.4 551.0 328.5 550.4C329.5 549.7 330.5 549.0 331.5 548.4C332.6 547.7 333.6 547.1 334.6 546.5C335.6 545.9 336.7 545.2 337.7 544.6C338.7 544.0 339.7 543.4 340.8 542.8C341.8 542.3 342.8 541.7 343.8 541.1C344.9 540.6 345.9 540.0 346.9 539.4C347.9 538.9 349.0 538.4 350.0 537.8C351.0 537.3 352.1 536.8 353.1 536.3C354.1 535.8 355.1 535.3 356.2 534.8C357.2 534.3 358.2 533.8 359.2 533.3C360.3 532.9 361.3 532.4 362.3 532.0C363.3 531.5 364.4 531.0 365.4 530.6C366.4 530.2 367.4 529.7 368.5 529.3C369.5 528.9 370.5 528.5 371.5 528.1C372.6 527.7 373.6 527.3 374.6 526.9C375.6 526.5 376.7 526.1 377.7 525.8C378.7 525.4 379.7 525.0 380.8 524.7C381.8 524.3 382.8 524.0 383.8 523.6C384.9 523.3 385.9 522.9 386.9 522.6C387.9 522.3 389.0 522.0 390.0 521.7C391.0 521.3 392.1 521.0 393.1 520.7C394.1 520.4 395.1 520.1 396.2 519.9C397.2 519.6 398.2 519.3 399.2 519.0C400.3 518.7 401.3 518.5 402.3 518.2C403.3 518.0 404.4 517.7 405.4 517.5C406.4 517.2 407.4 517.0 408.5 516.7C409.5 516.5 410.5 516.3 411.5 516.1C412.6 515.8 413.6 515.6 414.6 515.4C415.6 515.2 416.7 515.0 417.7 514.8C418.7 514.6 419.7 514.4 420.8 514.2C421.8 514.0 422.8 513.8 423.8 513.6C424.9 513.5 425.9 513.3 426.9 513.1C427.9 513.0 429.0 512.8 430.0 512.6C431.0 512.5 432.1 512.3 433.1 512.2C434.1 512.0 435.1 511.9 436.2 511.7C437.2 511.6 438.2 511.4 439.2 511.3C440.3 511.2 441.3 511.0 442.3 510.9C443.3 510.8 444.4 510.7 445.4 510.6C446.4 510.4 447.4 510.3 448.5 510.2C449.5 510.1 450.5 510.0 451.5 509.9C452.6 509.8 453.6 509.7 454.6 509.6C455.6 509.5 456.7 509.4 457.7 509.3C458.7 509.2 459.7 509.1 460.8 509.0C461.8 509.0 462.8 508.9 463.8 508.8C464.9 508.7 465.9 508.6 466.9 508.6C467.9 508.5 469.0 508.4 470.0 508.4C471.0 508.3 472.1 508.2 473.1 508.2C474.1 508.1 475.1 508.0 476.2 508.0C477.2 507.9 478.2 507.9 479.2 507.8C480.3 507.7 481.3 507.7 482.3 507.6C483.3 507.6 484.4 507.5 485.4 507.5C486.4 507.4 487.4 507.4 488.5 507.3C489.5 507.3 490.5 507.2 491.5 507.2C492.6 507.1 493.6 507.1 494.6 507.1C495.6 507.0 496.7 507.0 497.7 506.9C498.7 506.9 499.7 506.8 500.8 506.8C501.8 506.8 502.8 506.7 503.8 506.7C504.9 506.6 505.9 506.6 506.9 506.6C507.9 506.5 509.0 506.5 510.0 506.5C511.0 506.4 512.1 506.4 513.1 506.4C514.1 506.3 515.1 506.3 516.2 506.3C517.2 506.2 518.2 506.2 519.2 506.2C520.3 506.1 521.3 506.1 522.3 506.1C523.3 506.1 524.4 506.0 525.4 506.0C526.4 506.0 527.4 505.9 528.5 505.9C529.5 505.9 530.5 505.9 531.5 505.8C532.6 505.8 533.6 505.8 534.6 505.8C535.6 505.7 536.7 505.7 537.7 505.7C538.7 505.7 539.7 505.6 540.8 505.6C541.8 505.6 542.8 505.6 543.8 505.5C544.9 505.5 545.9 505.5 546.9 505.5C547.9 505.4 549.0 505.4 550.0 505.4C551.0 505.4 552.1 505.4 553.1 505.3C554.1 505.3 555.1 505.3 556.2 505.3C557.2 505.2 558.2 505.2 559.2 505.2C560.3 505.2 561.3 505.2 562.3 505.1C563.3 505.1 564.4 505.1 565.4 505.1C566.4 505.1 567.4 505.0 568.5 505.0C569.5 505.0 570.5 505.0 571.5 505.0C572.6 504.9 573.6 504.9 574.6 504.9C575.6 504.9 576.7 504.8 577.7 504.8C578.7 504.8 579.7 504.8 580.8 504.8C581.8 504.7 582.8 504.7 583.8 504.7C584.9 504.7 585.9 504.7 586.9 504.6C587.9 504.6 589.0 504.6 590.0 504.6C591.0 504.5 592.1 504.5 593.1 504.5C594.1 504.5 595.1 504.4 596.2 504.4C597.2 504.4 598.2 504.4 599.2 504.4C600.3 504.3 601.3 504.3 602.3 504.3C603.3 504.2 604.4 504.2 605.4 504.2C606.4 504.2 607.4 504.1 608.5 504.1C609.5 504.1 610.5 504.1 611.5 504.0C612.6 504.0 613.6 504.0 614.6 503.9C615.6 503.9 616.7 503.9 617.7 503.8C618.7 503.8 619.7 503.8 620.8 503.8C621.8 503.7 622.8 503.7 623.8 503.7C624.9 503.6 625.9 503.6 626.9 503.5C627.9 503.5 629.0 503.5 630.0 503.4C631.0 503.4 632.1 503.4 633.1 503.3C634.1 503.3 635.1 503.2 636.2 503.2C637.2 503.2 638.2 503.1 639.2 503.1C640.3 503.0 641.3 503.0 642.3 502.9C643.3 502.9 644.4 502.9 645.4 502.8C646.4 502.8 647.4 502.7 648.5 502.7C649.5 502.6 650.5 502.6 651.5 502.5C652.6 502.5 653.6 502.4 654.6 502.4C655.6 502.3 656.7 502.3 657.7 502.2C658.7 502.1 659.7 502.1 660.8 502.0C661.8 502.0 662.8 501.9 663.8 501.9C664.9 501.8 665.9 501.7 666.9 501.7C667.9 501.6 669.0 501.5 670.0 501.5C671.0 501.4 672.1 501.4 673.1 501.3C674.1 501.2 675.1 501.1 676.2 501.1C677.2 501.0 678.2 500.9 679.2 500.9C680.3 500.8 681.3 500.7 682.3 500.6C683.3 500.6 684.4 500.5 685.4 500.4C686.4 500.3 687.4 500.2 688.5 500.2C689.5 500.1 690.5 500.0 691.5 499.9C692.6 499.8 693.6 499.7 694.6 499.6C695.6 499.5 696.7 499.4 697.7 499.3C698.7 499.2 699.7 499.1 700.8 499.0C701.8 498.9 702.8 498.8 703.8 498.7C704.9 498.5 705.9 498.4 706.9 498.3C707.9 498.1 709.0 498.0 710.0 497.8C711.0 497.7 712.1 497.5 713.1 497.3C714.1 497.1 715.1 497.0 716.2 496.8C717.2 496.6 718.2 496.4 719.2 496.2C720.3 495.9 721.3 495.7 722.3 495.5C723.3 495.2 724.4 495.0 725.4 494.7C726.4 494.4 727.4 494.2 728.5 493.9C729.5 493.6 730.5 493.3 731.5 492.9C732.6 492.6 733.6 492.3 734.6 491.9C735.6 491.6 736.7 491.2 737.7 490.8C738.7 490.4 739.7 490.0 740.8 489.5C741.8 489.1 742.8 488.6 743.8 488.1C744.9 487.6 745.9 487.0 746.9 486.4C747.9 485.9 749.0 485.2 750.0 484.6C751.0 483.9 752.1 483.2 753.1 482.4C754.1 481.6 755.1 480.8 756.2 479.9C757.2 479.1 758.2 478.1 759.2 477.1C760.3 476.2 761.3 475.1 762.3 474.0C763.3 472.9 764.4 471.7 765.4 470.4C766.4 469.1 767.4 467.8 768.5 466.4C769.5 465.0 770.5 463.5 771.5 461.9C772.6 460.3 773.6 458.7 774.6 456.9C775.6 455.1 776.7 453.3 777.7 451.4C778.7 449.4 779.7 447.4 780.8 445.3C781.8 443.1 782.8 440.9 783.8 438.6C784.9 436.3 785.9 433.8 786.9 431.4C787.9 428.9 789.0 426.3 790.0 423.7C791.0 421.1 792.1 418.4 793.1 415.6C794.1 412.9 795.1 410.1 796.2 407.2C797.2 404.4 798.2 401.5 799.2 398.6C800.3 395.6 801.3 392.7 802.3 389.7C803.3 386.7 804.4 383.7 805.4 380.6C806.4 377.6 807.4 374.5 808.5 371.5C809.5 368.4 810.5 365.4 811.5 362.3C812.6 359.2 813.6 356.2 814.6 353.2C815.6 350.1 816.7 347.1 817.7 344.1C818.7 341.1 819.7 338.1 820.8 335.2C821.8 332.3 822.8 329.4 823.8 326.5C824.9 323.7 825.9 320.9 826.9 318.1C827.9 315.4 829.0 312.7 830.0 310.0C831.0 307.4 832.1 304.8 833.1 302.4C834.1 299.9 835.1 297.5 836.2 295.1C837.2 292.8 838.2 290.6 839.2 288.4C840.3 286.3 841.3 284.2 842.3 282.3C843.3 280.3 844.4 278.5 845.4 276.7C846.4 275.0 847.4 273.3 848.5 271.7C849.5 270.2 850.5 268.7 851.5 267.4C852.6 266.0 853.6 264.8 854.6 263.6C855.6 262.5 856.7 261.5 857.7 260.5C858.7 259.6 859.7 258.8 860.8 258.1C861.8 257.4 862.8 256.7 863.8 256.2C864.9 255.6 865.9 255.2 866.9 254.8C867.9 254.5 869.0 254.2 870.0 254.0C871.0 253.7 872.1 253.6 873.1 253.5C874.1 253.5 875.1 253.4 876.2 253.5C877.2 253.6 878.2 253.7 879.2 253.8C880.3 254.0 881.3 254.2 882.3 254.5C883.3 254.8 884.4 255.1 885.4 255.5C886.4 255.9 887.4 256.3 888.5 256.8C889.5 257.2 890.5 257.8 891.5 258.3C892.6 258.9 893.6 259.4 894.6 260.1C895.6 260.7 896.7 261.3 897.7 262.0C898.7 262.7 899.7 263.4 900.8 264.1C901.8 264.9 902.8 265.6 903.8 266.4C904.9 267.2 905.9 268.0 906.9 268.8C907.9 269.6 909.0 270.4 910.0 271.3C911.0 272.1 912.1 273.0 913.1 273.8C914.1 274.7 915.1 275.5 916.2 276.4C917.2 277.3 918.2 278.1 919.2 279.0C920.3 279.9 921.3 280.8 922.3 281.7C923.3 282.5 924.4 283.4 925.4 284.3C926.4 285.2 927.4 286.0 928.5 286.9C929.5 287.8 930.5 288.7 931.5 289.5C932.6 290.4 933.6 291.2 934.6 292.1C935.6 292.9 936.7 293.8 937.7 294.6C938.7 295.4 939.7 296.2 940.8 297.0C941.8 297.8 942.8 298.6 943.8 299.4C944.9 300.2 945.9 300.9 946.9 301.7C947.9 302.4 949.0 303.2 950.0 303.9C951.0 304.6 952.1 305.4 953.1 306.1C954.1 306.8 955.1 307.5 956.2 308.2C957.2 308.9 958.2 309.5 959.2 310.2C960.3 310.9 961.3 311.6 962.3 312.2C963.3 312.9 964.4 313.5 965.4 314.1C966.4 314.8 967.4 315.4 968.5 316.0C969.5 316.6 970.5 317.2 971.5 317.8C972.6 318.4 973.6 319.0 974.6 319.6C975.6 320.2 976.7 320.8 977.7 321.3C978.7 321.9 979.7 322.5 980.8 323.0C981.8 323.6 982.8 324.1 983.8 324.7C984.9 325.2 985.9 325.7 986.9 326.3C987.9 326.8 989.0 327.3 990.0 327.8C991.0 328.3 992.1 328.9 993.1 329.4C994.1 329.9 995.1 330.4 996.2 330.9C997.2 331.4 998.2 331.9 999.2 332.3C1000.3 332.8 1001.3 333.3 1002.3 333.8C1003.3 334.3 1004.4 334.7 1005.4 335.2C1006.4 335.7 1007.4 336.1 1008.5 336.6C1009.5 337.1 1010.5 337.5 1011.5 338.0C1012.6 338.4 1013.6 338.9 1014.6 339.3C1015.6 339.8 1016.7 340.2 1017.7 340.6C1018.7 341.1 1019.7 341.5 1020.8 341.9C1021.8 342.4 1022.8 342.8 1023.8 343.2C1024.9 343.6 1025.9 344.0 1026.9 344.5C1027.9 344.9 1029.0 345.3 1030.0 345.7C1031.0 346.1 1032.1 346.5 1033.1 346.9C1034.1 347.3 1035.1 347.7 1036.2 348.1C1037.2 348.4 1038.2 348.8 1039.2 349.2C1040.3 349.6 1041.3 350.0 1042.3 350.3C1043.3 350.7 1044.4 351.1 1045.4 351.5C1046.4 351.8 1047.4 352.2 1048.5 352.5C1049.5 352.9 1050.5 353.3 1051.5 353.6C1052.6 354.0 1053.6 354.3 1054.6 354.7C1055.6 355.0 1056.7 355.3 1057.7 355.7C1058.7 356.0 1059.7 356.4 1060.8 356.7C1061.8 357.0 1062.8 357.3 1063.8 357.7C1064.9 358.0 1065.9 358.3 1066.9 358.6C1067.9 359.0 1069.0 359.3 1070.0 359.6C1071.0 359.9 1072.1 360.2 1073.1 360.5C1074.1 360.8 1075.1 361.1 1076.2 361.4C1077.2 361.7 1078.2 362.0 1079.2 362.3C1080.3 362.6 1081.3 362.9 1082.3 363.2C1083.3 363.5 1084.4 363.8 1085.4 364.0C1086.4 364.3 1087.4 364.6 1088.5 364.9C1089.5 365.1 1090.5 365.4 1091.5 365.7C1092.6 366.0 1093.6 366.2 1094.6 366.5C1095.6 366.7 1096.7 367.0 1097.7 367.3C1098.7 367.5 1099.7 367.8 1100.8 368.0C1101.8 368.3 1102.8 368.5 1103.8 368.8C1104.9 369.0 1105.9 369.3 1106.9 369.5C1107.9 369.8 1109.0 370.0 1110.0 370.2C1111.0 370.5 1112.1 370.7 1113.1 370.9C1114.1 371.2 1115.1 371.4 1116.2 371.6C1117.2 371.9 1118.2 372.1 1119.2 372.3C1120.3 372.5 1121.3 372.8 1122.3 373.0C1123.3 373.2 1124.4 373.4 1125.4 373.6C1126.4 373.8 1127.4 374.0 1128.5 374.3C1129.5 374.5 1130.5 374.7 1131.5 374.9C1132.6 375.1 1133.6 375.3 1134.6 375.5C1135.6 375.7 1136.7 375.9 1137.7 376.1C1138.7 376.3 1139.7 376.5 1140.8 376.7C1141.8 376.9 1142.8 377.0 1143.8 377.2C1144.9 377.4 1145.9 377.6 1146.9 377.8C1147.9 378.0 1149.0 378.2 1150.0 378.3C1151.0 378.5 1152.1 378.7 1153.1 378.9C1154.1 379.1 1155.1 379.2 1156.2 379.4C1157.2 379.6 1158.2 379.7 1159.2 379.9C1160.3 380.1 1161.3 380.3 1162.3 380.4C1163.3 380.6 1164.4 380.8 1165.4 380.9C1166.4 381.1 1167.4 381.2 1168.5 381.4C1169.5 381.6 1170.5 381.7 1171.5 381.9C1172.6 382.0 1173.6 382.2 1174.6 382.3C1175.6 382.5 1176.7 382.7 1177.7 382.8C1178.7 383.0 1179.7 383.1 1180.8 383.3C1181.8 383.4 1182.8 383.5 1183.8 383.7C1184.9 383.8 1185.9 384.0 1186.9 384.1C1187.9 384.3 1189.0 384.4 1190.0 384.6C1191.0 384.7 1192.1 384.8 1193.1 385.0C1194.1 385.1 1195.1 385.3 1196.2 385.4C1197.2 385.5 1198.2 385.7 1199.2 385.8C1200.3 385.9 1201.3 386.1 1202.3 386.2C1203.3 386.3 1204.4 386.5 1205.4 386.6C1206.4 386.7 1207.4 386.9 1208.5 387.0C1209.5 387.1 1210.5 387.2 1211.5 387.4C1212.6 387.5 1213.6 387.6 1214.6 387.7C1215.6 387.9 1216.7 388.0 1217.7 388.1C1218.7 388.2 1219.7 388.4 1220.8 388.5C1221.8 388.6 1222.8 388.7 1223.8 388.9C1224.9 389.0 1225.9 389.1 1226.9 389.2C1227.9 389.3 1229.0 389.5 1230.0 389.6C1231.0 389.7 1232.1 389.8 1233.1 389.9C1234.1 390.0 1235.1 390.2 1236.2 390.3C1237.2 390.4 1238.2 390.5 1239.2 390.6C1240.3 390.7 1241.3 390.8 1242.3 390.9C1243.3 391.1 1244.4 391.2 1245.4 391.3C1246.4 391.4 1247.4 391.5 1248.5 391.6C1249.5 391.7 1250.5 391.8 1251.5 391.9C1252.6 392.0 1253.6 392.1 1254.6 392.2C1255.6 392.4 1256.7 392.5 1257.7 392.6C1258.7 392.7 1259.7 392.8 1260.8 392.9C1261.8 393.0 1262.8 393.1 1263.8 393.2C1264.9 393.3 1265.9 393.4 1266.9 393.5C1267.9 393.6 1269.0 393.7 1270.0 393.8C1271.0 393.9 1272.1 394.0 1273.1 394.1C1274.1 394.1 1275.1 394.2 1276.2 394.3C1277.2 394.4 1278.2 394.5 1279.2 394.6C1280.3 394.7 1281.3 394.8 1282.3 394.9C1283.3 395.0 1284.4 395.1 1285.4 395.2C1286.4 395.2 1287.4 395.3 1288.5 395.4C1289.5 395.5 1290.5 395.6 1291.5 395.7C1292.6 395.8 1293.6 395.8 1294.6 395.9C1295.6 396.0 1296.7 396.1 1297.7 396.2C1298.7 396.3 1299.7 396.3 1300.8 396.4C1301.8 396.5 1302.8 396.6 1303.8 396.6C1304.9 396.7 1305.9 396.8 1306.9 396.9C1307.9 397.0 1309.0 397.0 1310.0 397.1C1311.0 397.2 1312.1 397.3 1313.1 397.3C1314.1 397.4 1315.1 397.5 1316.2 397.5C1317.2 397.6 1318.2 397.7 1319.2 397.7C1320.3 397.8 1321.3 397.9 1322.3 397.9C1323.3 398.0 1324.4 398.1 1325.4 398.1C1326.4 398.2 1327.4 398.3 1328.5 398.3C1329.5 398.4 1330.5 398.5 1331.5 398.5C1332.6 398.6 1333.6 398.6 1334.6 398.7C1335.6 398.8 1336.7 398.8 1337.7 398.9C1338.7 398.9 1339.7 399.0 1340.8 399.1C1341.8 399.1 1342.8 399.2 1343.8 399.2C1344.9 399.3 1345.9 399.3 1346.9 399.4C1347.9 399.4 1349.0 399.5 1350.0 399.5C1351.0 399.6 1352.1 399.6 1353.1 399.7C1354.1 399.7 1355.1 399.8 1356.2 399.8C1357.2 399.9 1358.2 399.9 1359.2 399.9C1360.3 400.0 1361.3 400.0 1362.3 400.1C1363.3 400.1 1364.4 400.2 1365.4 400.2C1366.4 400.2 1367.4 400.3 1368.5 400.3C1369.5 400.4 1370.5 400.4 1371.5 400.4C1372.6 400.5 1373.6 400.5 1374.6 400.5C1375.6 400.6 1376.7 400.6 1377.7 400.6C1378.7 400.7 1379.7 400.7 1380.8 400.7C1381.8 400.8 1382.8 400.8 1383.8 400.8C1384.9 400.8 1385.9 400.9 1386.9 400.9C1387.9 400.9 1389.0 400.9 1390.0 401.0C1391.0 401.0 1392.1 401.0 1393.1 401.0C1394.1 401.1 1395.1 401.1 1396.2 401.1C1397.2 401.1 1398.2 401.1 1399.2 401.2C1400.3 401.2 1401.3 401.2 1402.3 401.2C1403.3 401.2 1404.4 401.2 1405.4 401.2C1406.4 401.3 1407.4 401.3 1408.5 401.3C1409.5 401.3 1410.5 401.3 1411.5 401.3C1412.6 401.3 1413.6 401.3 1414.6 401.3C1415.6 401.3 1416.7 401.4 1417.7 401.4C1418.7 401.4 1419.7 401.4 1420.8 401.4C1421.8 401.4 1422.8 401.4 1423.8 401.4C1424.9 401.4 1425.9 401.4 1426.9 401.4C1427.9 401.4 1429.0 401.4 1430.0 401.4C1431.0 401.4 1432.1 401.4 1433.1 401.3C1434.1 401.3 1435.1 401.3 1436.2 401.3C1437.2 401.3 1438.2 401.3 1439.2 401.3C1440.3 401.3 1441.3 401.3 1442.3 401.3C1443.3 401.2 1444.4 401.2 1445.4 401.2C1446.4 401.2 1447.4 401.2 1448.5 401.2C1449.5 401.2 1450.5 401.1 1451.5 401.1C1452.6 401.1 1453.6 401.1 1454.6 401.1C1455.6 401.0 1456.7 401.0 1457.7 401.0C1458.7 401.0 1459.7 400.9 1460.8 400.9C1461.8 400.9 1462.8 400.9 1463.8 400.8C1464.9 400.8 1465.9 400.8 1466.9 400.7C1467.9 400.7 1469.0 400.7 1470.0 400.6C1471.0 400.6 1472.1 400.6 1473.1 400.5C1473.5 400.5 1473.8 400.5 1474.2 400.5"/>
<path stroke="#FFC000" d="M1474.2 401.0C1473.8 401.2 1473.5 401.5 1473.1 401.7C1472.1 402.3 1471.0 403.0 1470.0 403.6C1469.0 404.2 1467.9 404.8 1466.9 405.3C1465.9 405.9 1464.9 406.5 1463.8 407.0C1462.8 407.6 1461.8 408.1 1460.8 408.7C1459.7 409.2 1458.7 409.7 1457.7 410.2C1456.7 410.7 1455.6 411.2 1454.6 411.7C1453.6 412.2 1452.6 412.7 1451.5 413.2C1450.5 413.6 1449.5 414.1 1448.5 414.5C1447.4 415.0 1446.4 415.4 1445.4 415.8C1444.4 416.3 1443.3 416.7 1442.3 417.1C1441.3 417.5 1440.3 417.9 1439.2 418.3C1438.2 418.7 1437.2 419.0 1436.2 419.4C1435.1 419.8 1434.1 420.1 1433.1 420.5C1432.1 420.8 1431.0 421.2 1430.0 421.5C1429.0 421.8 1427.9 422.2 1426.9 422.5C1425.9 422.8 1424.9 423.1 1423.8 423.4C1422.8 423.7 1421.8 424.0 1420.8 424.3C1419.7 424.6 1418.7 424.8 1417.7 425.1C1416.7 425.4 1415.6 425.6 1414.6 425.9C1413.6 426.2 1412.6 426.4 1411.5 426.6C1410.5 426.9 1409.5 427.1 1408.5 427.3C1407.4 427.6 1406.4 427.8 1405.4 428.0C1404.4 428.2 1403.3 428.4 1402.3 428.6C1401.3 428.8 1400.3 429.0 1399.2 429.2C1398.2 429.4 1397.2 429.6 1396.2 429.8C1395.1 430.0 1394.1 430.1 1393.1 430.3C1392.1 430.5 1391.0 430.6 1390.0 430.8C1389.0 430.9 1387.9 431.1 1386.9 431.3C1385.9 431.4 1384.9 431.5 1383.8 431.7C1382.8 431.8 1381.8 432.0 1380.8 432.1C1379.7 432.2 1378.7 432.4 1377.7 432.5C1376.7 432.6 1375.6 432.7 1374.6 432.8C1373.6 433.0 1372.6 433.1 1371.5 433.2C1370.5 433.3 1369.5 433.4 1368.5 433.5C1367.4 433.6 1366.4 433.7 1365.4 433.8C1364.4 433.9 1363.3 434.0 1362.3 434.1C1361.3 434.2 1360.3 434.3 1359.2 434.4C1358.2 434.5 1357.2 434.6 1356.2 434.7C1355.1 434.7 1354.1 434.8 1353.1 434.9C1352.1 435.0 1351.0 435.1 1350.0 435.2C1349.0 435.2 1347.9 435.3 1346.9 435.4C1345.9 435.5 1344.9 435.6 1343.8 435.6C1342.8 435.7 1341.8 435.8 1340.8 435.9C1339.7 435.9 1338.7 436.0 1337.7 436.1C1336.7 436.2 1335.6 436.2 1334.6 436.3C1333.6 436.4 1332.6 436.5 1331.5 436.5C1330.5 436.6 1329.5 436.7 1328.5 436.8C1327.4 436.8 1326.4 436.9 1325.4 437.0C1324.4 437.1 1323.3 437.1 1322.3 437.2C1321.3 437.3 1320.3 437.3 1319.2 437.4C1318.2 437.5 1317.2 437.6 1316.2 437.6C1315.1 437.7 1314.1 437.8 1313.1 437.8C1312.1 437.9 1311.0 438.0 1310.0 438.0C1309.0 438.1 1307.9 438.2 1306.9 438.3C1305.9 438.3 1304.9 438.4 1303.8 438.5C1302.8 438.5 1301.8 438.6 1300.8 438.7C1299.7 438.7 1298.7 438.8 1297.7 438.9C1296.7 438.9 1295.6 439.0 1294.6 439.1C1293.6 439.1 1292.6 439.2 1291.5 439.3C1290.5 439.3 1289.5 439.4 1288.5 439.5C1287.4 439.5 1286.4 439.6 1285.4 439.7C1284.4 439.7 1283.3 439.8 1282.3 439.8C1281.3 439.9 1280.3 440.0 1279.2 440.0C1278.2 440.1 1277.2 440.2 1276.2 440.2C1275.1 440.3 1274.1 440.4 1273.1 440.4C1272.1 440.5 1271.0 440.5 1270.0 440.6C1269.0 440.7 1267.9 440.7 1266.9 440.8C1265.9 440.8 1264.9 440.9 1263.8 441.0C1262.8 441.0 1261.8 441.1 1260.8 441.2C1259.7 441.2 1258.7 441.3 1257.7 441.3C1256.7 441.4 1255.6 441.5 1254.6 441.5C1253.6 441.6 1252.6 441.6 1251.5 441.7C1250.5 441.8 1249.5 441.8 1248.5 441.9C1247.4 441.9 1246.4 442.0 1245.4 442.1C1244.4 442.1 1243.3 442.2 1242.3 442.2C1241.3 442.3 1240.3 442.3 1239.2 442.4C1238.2 442.5 1237.2 442.5 1236.2 442.6C1235.1 442.6 1234.1 442.7 1233.1 442.8C1232.1 442.8 1231.0 442.9 1230.0 442.9C1229.0 443.0 1227.9 443.0 1226.9 443.1C1225.9 443.2 1224.9 443.2 1223.8 443.3C1222.8 443.3 1221.8 443.4 1220.8 443.5C1219.7 443.5 1218.7 443.6 1217.7 443.6C1216.7 443.7 1215.6 443.7 1214.6 443.8C1213.6 443.9 1212.6 443.9 1211.5 444.0C1210.5 444.0 1209.5 444.1 1208.5 444.1C1207.4 444.2 1206.4 444.3 1205.4 444.3C1204.4 444.4 1203.3 444.4 1202.3 444.5C1201.3 444.5 1200.3 444.6 1199.2 444.7C1198.2 444.7 1197.2 444.8 1196.2 444.8C1195.1 444.9 1194.1 444.9 1193.1 445.0C1192.1 445.1 1191.0 445.1 1190.0 445.2C1189.0 445.2 1187.9 445.3 1186.9 445.3C1185.9 445.4 1184.9 445.5 1183.8 445.5C1182.8 445.6 1181.8 445.6 1180.8 445.7C1179.7 445.7 1178.7 445.8 1177.7 445.8C1176.7 445.9 1175.6 446.0 1174.6 446.0C1173.6 446.1 1172.6 446.1 1171.5 446.2C1170.5 446.3 1169.5 446.3 1168.5 446.4C1167.4 446.4 1166.4 446.5 1165.4 446.5C1164.4 446.6 1163.3 446.7 1162.3 446.7C1161.3 446.8 1160.3 446.8 1159.2 446.9C1158.2 446.9 1157.2 447.0 1156.2 447.1C1155.1 447.1 1154.1 447.2 1153.1 447.2C1152.1 447.3 1151.0 447.4 1150.0 447.4C1149.0 447.5 1147.9 447.5 1146.9 447.6C1145.9 447.7 1144.9 447.7 1143.8 447.8C1142.8 447.8 1141.8 447.9 1140.8 447.9C1139.7 448.0 1138.7 448.1 1137.7 448.1C1136.7 448.2 1135.6 448.2 1134.6 448.3C1133.6 448.4 1132.6 448.4 1131.5 448.5C1130.5 448.6 1129.5 448.6 1128.5 448.7C1127.4 448.7 1126.4 448.8 1125.4 448.9C1124.4 448.9 1123.3 449.0 1122.3 449.0C1121.3 449.1 1120.3 449.2 1119.2 449.2C1118.2 449.3 1117.2 449.4 1116.2 449.4C1115.1 449.5 1114.1 449.5 1113.1 449.6C1112.1 449.7 1111.0 449.7 1110.0 449.8C1109.0 449.9 1107.9 449.9 1106.9 450.0C1105.9 450.1 1104.9 450.1 1103.8 450.2C1102.8 450.3 1101.8 450.3 1100.8 450.4C1099.7 450.4 1098.7 450.5 1097.7 450.6C1096.7 450.6 1095.6 450.7 1094.6 450.8C1093.6 450.8 1092.6 450.9 1091.5 451.0C1090.5 451.0 1089.5 451.1 1088.5 451.2C1087.4 451.2 1086.4 451.3 1085.4 451.4C1084.4 451.5 1083.3 451.5 1082.3 451.6C1081.3 451.7 1080.3 451.7 1079.2 451.8C1078.2 451.9 1077.2 451.9 1076.2 452.0C1075.1 452.1 1074.1 452.2 1073.1 452.2C1072.1 452.3 1071.0 452.4 1070.0 452.4C1069.0 452.5 1067.9 452.6 1066.9 452.7C1065.9 452.7 1064.9 452.8 1063.8 452.9C1062.8 452.9 1061.8 453.0 1060.8 453.1C1059.7 453.2 1058.7 453.2 1057.7 453.3C1056.7 453.4 1055.6 453.5 1054.6 453.5C1053.6 453.6 1052.6 453.7 1051.5 453.8C1050.5 453.8 1049.5 453.9 1048.5 454.0C1047.4 454.1 1046.4 454.1 1045.4 454.2C1044.4 454.3 1043.3 454.4 1042.3 454.4C1041.3 454.5 1040.3 454.6 1039.2 454.7C1038.2 454.7 1037.2 454.8 1036.2 454.9C1035.1 455.0 1034.1 455.1 1033.1 455.1C1032.1 455.2 1031.0 455.3 1030.0 455.4C1029.0 455.5 1027.9 455.5 1026.9 455.6C1025.9 455.7 1024.9 455.8 1023.8 455.9C1022.8 455.9 1021.8 456.0 1020.8 456.1C1019.7 456.2 1018.7 456.3 1017.7 456.3C1016.7 456.4 1015.6 456.5 1014.6 456.6C1013.6 456.7 1012.6 456.8 1011.5 456.8C1010.5 456.9 1009.5 457.0 1008.5 457.1C1007.4 457.2 1006.4 457.3 1005.4 457.3C1004.4 457.4 1003.3 457.5 1002.3 457.6C1001.3 457.7 1000.3 457.8 999.2 457.9C998.2 457.9 997.2 458.0 996.2 458.1C995.1 458.2 994.1 458.3 993.1 458.4C992.1 458.5 991.0 458.6 990.0 458.6C989.0 458.7 987.9 458.8 986.9 458.9C985.9 459.0 984.9 459.1 983.8 459.2C982.8 459.3 981.8 459.3 980.8 459.4C979.7 459.5 978.7 459.6 977.7 459.7C976.7 459.8 975.6 459.9 974.6 460.0C973.6 460.1 972.6 460.2 971.5 460.3C970.5 460.3 969.5 460.4 968.5 460.5C967.4 460.6 966.4 460.7 965.4 460.8C964.4 460.9 963.3 461.0 962.3 461.1C961.3 461.2 960.3 461.3 959.2 461.4C958.2 461.5 957.2 461.6 956.2 461.7C955.1 461.9 954.1 462.0 953.1 462.1C952.1 462.2 951.0 462.3 950.0 462.5C949.0 462.6 947.9 462.7 946.9 462.9C945.9 463.0 944.9 463.2 943.8 463.3C942.8 463.5 941.8 463.6 940.8 463.8C939.7 464.0 938.7 464.1 937.7 464.3C936.7 464.5 935.6 464.7 934.6 464.9C933.6 465.1 932.6 465.3 931.5 465.5C930.5 465.7 929.5 466.0 928.5 466.2C927.4 466.4 926.4 466.7 925.4 466.9C924.4 467.2 923.3 467.5 922.3 467.7C921.3 468.0 920.3 468.3 919.2 468.6C918.2 468.9 917.2 469.2 916.2 469.6C915.1 469.9 914.1 470.2 913.1 470.6C912.1 470.9 911.0 471.3 910.0 471.7C909.0 472.1 907.9 472.5 906.9 472.9C905.9 473.3 904.9 473.7 903.8 474.2C902.8 474.6 901.8 475.1 900.8 475.5C899.7 476.0 898.7 476.5 897.7 477.0C896.7 477.5 895.6 478.0 894.6 478.6C893.6 479.1 892.6 479.7 891.5 480.3C890.5 480.8 889.5 481.5 888.5 482.1C887.4 482.7 886.4 483.4 885.4 484.1C884.4 484.8 883.3 485.5 882.3 486.3C881.3 487.1 880.3 487.9 879.2 488.8C878.2 489.7 877.2 490.6 876.2 491.6C875.1 492.6 874.1 493.6 873.1 494.7C872.1 495.8 871.0 496.9 870.0 498.0C869.0 499.2 867.9 500.4 866.9 501.6C865.9 502.8 864.9 504.0 863.8 505.3C862.8 506.6 861.8 507.9 860.8 509.3C859.7 510.7 858.7 512.2 857.7 513.8C856.7 515.3 855.6 516.9 854.6 518.7C853.6 520.4 852.6 522.2 851.5 524.2C850.5 526.1 849.5 528.1 848.5 530.3C847.4 532.4 846.4 534.7 845.4 537.1C844.4 539.5 843.3 542.1 842.3 544.8C841.3 547.5 840.3 550.4 839.2 553.3C838.2 556.2 837.2 559.3 836.2 562.4C835.1 565.5 834.1 568.6 833.1 571.7C832.1 574.8 831.0 578.0 830.0 581.0C829.0 584.1 827.9 587.1 826.9 590.1C825.9 593.1 824.9 596.0 823.8 598.9C822.8 601.8 821.8 604.7 820.8 607.6C819.7 610.4 818.7 613.2 817.7 616.0C816.7 618.7 815.6 621.5 814.6 624.2C813.6 626.9 812.6 629.6 811.5 632.2C810.5 634.9 809.5 637.5 808.5 640.1C807.4 642.7 806.4 645.3 805.4 647.9C804.4 650.5 803.3 653.0 802.3 655.5C801.3 657.9 800.3 660.4 799.2 662.8C798.2 665.2 797.2 667.5 796.2 669.7C795.1 672.0 794.1 674.2 793.1 676.3C792.1 678.4 791.0 680.4 790.0 682.3C789.0 684.3 787.9 686.1 786.9 687.8C785.9 689.5 784.9 691.2 783.8 692.7C782.8 694.2 781.8 695.5 780.8 696.8C779.7 698.0 778.7 699.1 777.7 700.1C776.7 701.1 775.6 701.9 774.6 702.6C773.6 703.4 772.6 704.0 771.5 704.5C770.5 705.0 769.5 705.4 768.5 705.6C767.4 705.9 766.4 706.1 765.4 706.2C764.4 706.3 763.3 706.3 762.3 706.2C761.3 706.1 760.3 705.9 759.2 705.7C758.2 705.4 757.2 705.1 756.2 704.7C755.1 704.3 754.1 703.8 753.1 703.3C752.1 702.8 751.0 702.3 750.0 701.6C749.0 701.0 747.9 700.4 746.9 699.7C745.9 698.9 744.9 698.2 743.8 697.4C742.8 696.7 741.8 695.9 740.8 695.0C739.7 694.2 738.7 693.4 737.7 692.5C736.7 691.7 735.6 690.8 734.6 690.0C733.6 689.1 732.6 688.2 731.5 687.4C730.5 686.5 729.5 685.6 728.5 684.8C727.4 683.9 726.4 683.1 725.4 682.2C724.4 681.3 723.3 680.5 722.3 679.6C721.3 678.8 720.3 677.9 719.2 677.1C718.2 676.2 717.2 675.4 716.2 674.5C715.1 673.7 714.1 672.9 713.1 672.0C712.1 671.2 711.0 670.4 710.0 669.5C709.0 668.7 707.9 667.9 706.9 667.1C705.9 666.2 704.9 665.4 703.8 664.6C702.8 663.8 701.8 663.0 700.8 662.2C699.7 661.4 698.7 660.6 697.7 659.8C696.7 659.1 695.6 658.3 694.6 657.5C693.6 656.7 692.6 656.0 691.5 655.2C690.5 654.5 689.5 653.7 688.5 653.0C687.4 652.3 686.4 651.5 685.4 650.8C684.4 650.1 683.3 649.4 682.3 648.7C681.3 648.0 680.3 647.3 679.2 646.6C678.2 645.9 677.2 645.2 676.2 644.6C675.1 643.9 674.1 643.2 673.1 642.6C672.1 642.0 671.0 641.3 670.0 640.7C669.0 640.1 667.9 639.5 666.9 638.9C665.9 638.3 664.9 637.7 663.8 637.1C662.8 636.5 661.8 636.0 660.8 635.4C659.7 634.8 658.7 634.3 657.7 633.8C656.7 633.2 655.6 632.7 654.6 632.2C653.6 631.7 652.6 631.1 651.5 630.6C650.5 630.1 649.5 629.7 648.5 629.2C647.4 628.7 646.4 628.2 645.4 627.8C644.4 627.3 643.3 626.8 642.3 626.4C641.3 626.0 640.3 625.5 639.2 625.1C638.2 624.7 637.2 624.2 636.2 623.8C635.1 623.4 634.1 623.0 633.1 622.6C632.1 622.2 631.0 621.9 630.0 621.5C629.0 621.1 627.9 620.7 626.9 620.4C625.9 620.0 624.9 619.6 623.8 619.3C622.8 619.0 621.8 618.6 620.8 618.3C619.7 617.9 618.7 617.6 617.7 617.3C616.7 617.0 615.6 616.7 614.6 616.4C613.6 616.1 612.6 615.8 611.5 615.5C610.5 615.2 609.5 614.9 608.5 614.6C607.4 614.3 606.4 614.1 605.4 613.8C604.4 613.5 603.3 613.3 602.3 613.0C601.3 612.7 600.3 612.5 599.2 612.3C598.2 612.0 597.2 611.8 596.2 611.5C595.1 611.3 594.1 611.1 593.1 610.9C592.1 610.6 591.0 610.4 590.0 610.2C589.0 610.0 587.9 609.8 586.9 609.6C585.9 609.4 584.9 609.2 583.8 609.0C582.8 608.8 581.8 608.6 580.8 608.4C579.7 608.2 578.7 608.0 577.7 607.8C576.7 607.7 575.6 607.5 574.6 607.3C573.6 607.2 572.6 607.0 571.5 606.8C570.5 606.7 569.5 606.5 568.5 606.3C567.4 606.2 566.4 606.0 565.4 605.9C564.4 605.7 563.3 605.6 562.3 605.4C561.3 605.3 560.3 605.1 559.2 605.0C558.2 604.9 557.2 604.7 556.2 604.6C555.1 604.4 554.1 604.3 553.1 604.2C552.1 604.0 551.0 603.9 550.0 603.8C549.0 603.7 547.9 603.5 546.9 603.4C545.9 603.3 544.9 603.2 543.8 603.0C542.8 602.9 541.8 602.8 540.8 602.7C539.7 602.6 538.7 602.4 537.7 602.3C536.7 602.2 535.6 602.1 534.6 602.0C533.6 601.9 532.6 601.7 531.5 601.6C530.5 601.5 529.5 601.4 528.5 601.3C527.4 601.2 526.4 601.1 525.4 601.0C524.4 600.8 523.3 600.7 522.3 600.6C521.3 600.5 520.3 600.4 519.2 600.3C518.2 600.2 517.2 600.1 516.2 600.0C515.1 599.9 514.1 599.8 513.1 599.7C512.1 599.6 511.0 599.5 510.0 599.4C509.0 599.3 507.9 599.2 506.9 599.1C505.9 599.0 504.9 598.9 503.8 598.8C502.8 598.7 501.8 598.6 500.8 598.5C499.7 598.4 498.7 598.3 497.7 598.3C496.7 598.2 495.6 598.1 494.6 598.0C493.6 597.9 492.6 597.9 491.5 597.8C490.5 597.7 489.5 597.6 488.5 597.6C487.4 597.5 486.4 597.4 485.4 597.4C484.4 597.3 483.3 597.2 482.3 597.2C481.3 597.1 480.3 597.1 479.2 597.0C478.2 597.0 477.2 596.9 476.2 596.9C475.1 596.8 474.1 596.8 473.1 596.7C472.1 596.7 471.0 596.6 470.0 596.6C469.0 596.6 467.9 596.5 466.9 596.5C465.9 596.5 464.9 596.5 463.8 596.4C462.8 596.4 461.8 596.4 460.8 596.4C459.7 596.4 458.7 596.3 457.7 596.3C456.7 596.3 455.6 596.3 454.6 596.3C453.6 596.3 452.6 596.3 451.5 596.3C450.5 596.4 449.5 596.4 448.5 596.4C447.4 596.4 446.4 596.4 445.4 596.5C444.4 596.5 443.3 596.5 442.3 596.5C441.3 596.6 440.3 596.6 439.2 596.7C438.2 596.7 437.2 596.8 436.2 596.8C435.1 596.9 434.1 596.9 433.1 597.0C432.1 597.0 431.0 597.1 430.0 597.2C429.0 597.3 427.9 597.3 426.9 597.4C425.9 597.5 424.9 597.6 423.8 597.7C422.8 597.8 421.8 597.9 420.8 598.0C419.7 598.1 418.7 598.2 417.7 598.3C416.7 598.4 415.6 598.5 414.6 598.7C413.6 598.8 412.6 598.9 411.5 599.1C410.5 599.2 409.5 599.3 408.5 599.5C407.4 599.7 406.4 599.8 405.4 600.0C404.4 600.1 403.3 600.3 402.3 600.5C401.3 600.7 400.3 600.9 399.2 601.1C398.2 601.2 397.2 601.5 396.2 601.7C395.1 601.9 394.1 602.1 393.1 602.3C392.1 602.6 391.0 602.8 390.0 603.0C389.0 603.3 387.9 603.5 386.9 603.8C385.9 604.1 384.9 604.4 383.8 604.7C382.8 604.9 381.8 605.2 380.8 605.5C379.7 605.9 378.7 606.2 377.7 606.5C376.7 606.8 375.6 607.2 374.6 607.5C373.6 607.9 372.6 608.3 371.5 608.6C370.5 609.0 369.5 609.4 368.5 609.8C367.4 610.2 366.4 610.6 365.4 611.1C364.4 611.5 363.3 611.9 362.3 612.4C361.3 612.8 360.3 613.3 359.2 613.8C358.2 614.3 357.2 614.8 356.2 615.3C355.1 615.8 354.1 616.3 353.1 616.9C352.1 617.4 351.0 618.0 350.0 618.5C349.0 619.1 347.9 619.7 346.9 620.3C345.9 620.9 344.9 621.5 343.8 622.2C342.8 622.8 341.8 623.5 340.8 624.1C339.7 624.8 338.7 625.5 337.7 626.2C336.7 626.9 335.6 627.6 334.6 628.3C333.6 629.1 332.6 629.8 331.5 630.6C330.5 631.4 329.5 632.2 328.5 633.0C327.4 633.8 326.4 634.6 325.4 635.5C324.4 636.3 323.3 637.2 322.3 638.1C321.3 639.0 320.3 639.9 319.2 640.8C318.2 641.8 317.2 642.7 316.2 643.7C315.1 644.6 314.1 645.6 313.1 646.6C312.1 647.7 311.0 648.7 310.0 649.7C309.0 650.8 307.9 651.9 306.9 653.0C305.9 654.1 304.9 655.2 303.8 656.3C302.8 657.5 301.8 658.6 300.8 659.8C299.7 661.0 298.7 662.2 297.7 663.5C296.7 664.8 295.6 666.0 294.6 667.3C293.6 668.7 292.6 670.0 291.5 671.4C290.5 672.7 289.5 674.2 288.5 675.6C287.4 677.0 286.4 678.5 285.4 680.0C284.4 681.6 283.3 683.1 282.3 684.7C281.3 686.3 280.3 687.9 279.2 689.6C278.2 691.3 277.2 693.0 276.2 694.8C275.1 696.6 274.1 698.4 273.1 700.2C272.1 702.1 271.0 704.0 270.0 705.9C269.0 707.9 267.9 709.9 266.9 711.9C265.9 714.0 264.9 716.1 263.8 718.2C262.8 720.4 261.8 722.6 260.8 724.9C259.7 727.1 258.7 729.4 257.7 731.8C256.7 734.2 255.6 736.6 254.6 739.1C253.6 741.6 252.6 744.2 251.5 746.8C250.5 749.4 249.5 752.1 248.5 754.8C247.4 757.5 246.4 760.3 245.4 763.2C244.4 766.1 243.3 769.0 242.3 772.0C241.3 775.0 240.3 778.1 239.2 781.2C238.2 784.4 237.2 787.6 236.2 790.9C235.1 794.2 234.1 797.5 233.1 801.0C232.1 804.4 231.0 807.9 230.0 811.5C229.0 815.1 227.9 818.8 226.9 822.5C225.9 826.3 224.9 830.1 223.8 834.0"/>
<path stroke="#A5A5A5" d="M208.5 822.0C209.5 817.6 210.5 813.2 211.5 808.9C212.6 804.5 213.6 800.2 214.6 795.9C215.6 791.7 216.7 787.4 217.7 783.2C218.7 779.0 219.7 774.9 220.8 770.7C221.8 766.6 222.8 762.5 223.8 758.5C224.9 754.5 225.9 750.5 226.9 746.6C227.9 742.7 229.0 738.8 230.0 735.0C231.0 731.2 232.1 727.5 233.1 723.8C234.1 720.2 235.1 716.6 236.2 713.0C237.2 709.5 238.2 706.0 239.2 702.6C240.3 699.3 241.3 696.0 242.3 692.7C243.3 689.5 244.4 686.4 245.4 683.3C246.4 680.3 247.4 677.3 248.5 674.4C249.5 671.5 250.5 668.7 251.5 666.0C252.6 663.3 253.6 660.6 254.6 658.1C255.6 655.5 256.7 653.0 257.7 650.6C258.7 648.2 259.7 645.8 260.8 643.5C261.8 641.2 262.8 639.0 263.8 636.9C264.9 634.7 265.9 632.7 266.9 630.6C267.9 628.6 269.0 626.7 270.0 624.8C271.0 622.9 272.1 621.0 273.1 619.2C274.1 617.5 275.1 615.7 276.2 614.0C277.2 612.4 278.2 610.7 279.2 609.2C280.3 607.6 281.3 606.0 282.3 604.6C283.3 603.1 284.4 601.6 285.4 600.2C286.4 598.8 287.4 597.5 288.5 596.2C289.5 594.8 290.5 593.6 291.5 592.3C292.6 591.1 293.6 589.9 294.6 588.7C295.6 587.5 296.7 586.3 297.7 585.2C298.7 584.1 299.7 583.0 300.8 581.9C301.8 580.9 302.8 579.8 303.8 578.8C304.9 577.8 305.9 576.8 306.9 575.8C307.9 574.8 309.0 573.8 310.0 572.9C311.0 572.0 312.1 571.0 313.1 570.1C314.1 569.2 315.1 568.3 316.2 567.4C317.2 566.5 318.2 565.6 319.2 564.8C320.3 563.9 321.3 563.1 322.3 562.3C323.3 561.5 324.4 560.6 325.4 559.9C326.4 559.1 327.4 558.3 328.5 557.5C329.5 556.8 330.5 556.0 331.5 555.3C332.6 554.5 333.6 553.8 334.6 553.1C335.6 552.4 336.7 551.7 337.7 551.0C338.7 550.3 339.7 549.7 340.8 549.0C341.8 548.4 342.8 547.7 343.8 547.1C344.9 546.5 345.9 545.9 346.9 545.2C347.9 544.6 349.0 544.1 350.0 543.5C351.0 542.9 352.1 542.3 353.1 541.8C354.1 541.2 355.1 540.7 356.2 540.1C357.2 539.6 358.2 539.1 359.2 538.5C360.3 538.0 361.3 537.5 362.3 537.0C363.3 536.5 364.4 536.1 365.4 535.6C366.4 535.1 367.4 534.6 368.5 534.2C369.5 533.7 370.5 533.3 371.5 532.9C372.6 532.4 373.6 532.0 374.6 531.6C375.6 531.2 376.7 530.7 377.7 530.3C378.7 529.9 379.7 529.6 380.8 529.2C381.8 528.8 382.8 528.4 383.8 528.0C384.9 527.7 385.9 527.3 386.9 526.9C387.9 526.6 389.0 526.2 390.0 525.9C391.0 525.6 392.1 525.2 393.1 524.9C394.1 524.6 395.1 524.2 396.2 523.9C397.2 523.6 398.2 523.3 399.2 523.0C400.3 522.7 401.3 522.4 402.3 522.1C403.3 521.8 404.4 521.5 405.4 521.2C406.4 521.0 407.4 520.7 408.5 520.4C409.5 520.1 410.5 519.9 411.5 519.6C412.6 519.3 413.6 519.1 414.6 518.8C415.6 518.5 416.7 518.3 417.7 518.0C418.7 517.8 419.7 517.5 420.8 517.3C421.8 517.1 422.8 516.8 423.8 516.6C424.9 516.3 425.9 516.1 426.9 515.9C427.9 515.7 429.0 515.4 430.0 515.2C431.0 515.0 432.1 514.8 433.1 514.5C434.1 514.3 435.1 514.1 436.2 513.9C437.2 513.7 438.2 513.5 439.2 513.3C440.3 513.1 441.3 512.9 442.3 512.7C443.3 512.5 444.4 512.3 445.4 512.1C446.4 511.9 447.4 511.7 448.5 511.5C449.5 511.4 450.5 511.2 451.5 511.0C452.6 510.8 453.6 510.6 454.6 510.5C455.6 510.3 456.7 510.1 457.7 510.0C458.7 509.8 459.7 509.6 460.8 509.5C461.8 509.3 462.8 509.1 463.8 509.0C464.9 508.8 465.9 508.7 466.9 508.5C467.9 508.4 469.0 508.2 470.0 508.1C471.0 507.9 472.1 507.8 473.1 507.7C474.1 507.5 475.1 507.4 476.2 507.3C477.2 507.1 478.2 507.0 479.2 506.9C480.3 506.7 481.3 506.6 482.3 506.5C483.3 506.4 484.4 506.2 485.4 506.1C486.4 506.0 487.4 505.9 488.5 505.8C489.5 505.7 490.5 505.5 491.5 505.4C492.6 505.3 493.6 505.2 494.6 505.1C495.6 505.0 496.7 504.9 497.7 504.8C498.7 504.7 499.7 504.6 500.8 504.5C501.8 504.4 502.8 504.3 503.8 504.2C504.9 504.1 505.9 504.1 506.9 504.0C507.9 503.9 509.0 503.8 510.0 503.7C511.0 503.6 512.1 503.6 513.1 503.5C514.1 503.4 515.1 503.3 516.2 503.2C517.2 503.2 518.2 503.1 519.2 503.0C520.3 503.0 521.3 502.9 522.3 502.8C523.3 502.8 524.4 502.7 525.4 502.6C526.4 502.6 527.4 502.5 528.5 502.4C529.5 502.4 530.5 502.3 531.5 502.3C532.6 502.2 533.6 502.2 534.6 502.1C535.6 502.1 536.7 502.0 537.7 502.0C538.7 501.9 539.7 501.9 540.8 501.8C541.8 501.8 542.8 501.7 543.8 501.7C544.9 501.6 545.9 501.6 546.9 501.6C547.9 501.5 549.0 501.5 550.0 501.4C551.0 501.4 552.1 501.4 553.1 501.3C554.1 501.3 555.1 501.3 556.2 501.2C557.2 501.2 558.2 501.2 559.2 501.1C560.3 501.1 561.3 501.1 562.3 501.1C563.3 501.0 564.4 501.0 565.4 501.0C566.4 501.0 567.4 500.9 568.5 500.9C569.5 500.9 570.5 500.9 571.5 500.8C572.6 500.8 573.6 500.8 574.6 500.8C575.6 500.8 576.7 500.7 577.7 500.7C578.7 500.7 579.7 500.7 580.8 500.7C581.8 500.7 582.8 500.7 583.8 500.6C584.9 500.6 585.9 500.6 586.9 500.6C587.9 500.6 589.0 500.6 590.0 500.5C591.0 500.5 592.1 500.5 593.1 500.5C594.1 500.5 595.1 500.5 596.2 500.5C597.2 500.4 598.2 500.4 599.2 500.4C600.3 500.4 601.3 500.4 602.3 500.4C603.3 500.4 604.4 500.3 605.4 500.3C606.4 500.3 607.4 500.3 608.5 500.3C609.5 500.3 610.5 500.2 611.5 500.2C612.6 500.2 613.6 500.2 614.6 500.2C615.6 500.1 616.7 500.1 617.7 500.1C618.7 500.1 619.7 500.0 620.8 500.0C621.8 500.0 622.8 500.0 623.8 499.9C624.9 499.9 625.9 499.9 626.9 499.9C627.9 499.8 629.0 499.8 630.0 499.8C631.0 499.7 632.1 499.7 633.1 499.7C634.1 499.6 635.1 499.6 636.2 499.5C637.2 499.5 638.2 499.5 639.2 499.4C640.3 499.4 641.3 499.3 642.3 499.3C643.3 499.2 644.4 499.2 645.4 499.1C646.4 499.1 647.4 499.0 648.5 499.0C649.5 498.9 650.5 498.8 651.5 498.8C652.6 498.7 653.6 498.7 654.6 498.6C655.6 498.5 656.7 498.4 657.7 498.4C658.7 498.3 659.7 498.2 660.8 498.2C661.8 498.1 662.8 498.0 663.8 497.9C664.9 497.8 665.9 497.7 666.9 497.6C667.9 497.6 669.0 497.5 670.0 497.4C671.0 497.3 672.1 497.2 673.1 497.1C674.1 497.0 675.1 496.9 676.2 496.7C677.2 496.6 678.2 496.5 679.2 496.4C680.3 496.3 681.3 496.2 682.3 496.0C683.3 495.9 684.4 495.8 685.4 495.7C686.4 495.5 687.4 495.4 688.5 495.3C689.5 495.1 690.5 495.0 691.5 494.8C692.6 494.7 693.6 494.5 694.6 494.4C695.6 494.2 696.7 494.0 697.7 493.9C698.7 493.7 699.7 493.5 700.8 493.4C701.8 493.2 702.8 493.0 703.8 492.8C704.9 492.6 705.9 492.5 706.9 492.3C707.9 492.1 709.0 491.9 710.0 491.7C711.0 491.5 712.1 491.3 713.1 491.0C714.1 490.8 715.1 490.6 716.2 490.4C717.2 490.2 718.2 489.9 719.2 489.7C720.3 489.5 721.3 489.2 722.3 489.0C723.3 488.7 724.4 488.4 725.4 488.2C726.4 487.9 727.4 487.6 728.5 487.2C729.5 486.9 730.5 486.6 731.5 486.2C732.6 485.8 733.6 485.4 734.6 485.0C735.6 484.5 736.7 484.0 737.7 483.5C738.7 483.0 739.7 482.4 740.8 481.8C741.8 481.2 742.8 480.6 743.8 479.8C744.9 479.1 745.9 478.4 746.9 477.6C747.9 476.7 749.0 475.9 750.0 474.9C751.0 474.0 752.1 473.0 753.1 471.9C754.1 470.8 755.1 469.7 756.2 468.5C757.2 467.3 758.2 466.0 759.2 464.7C760.3 463.3 761.3 461.9 762.3 460.4C763.3 458.9 764.4 457.4 765.4 455.7C766.4 454.1 767.4 452.4 768.5 450.6C769.5 448.8 770.5 446.9 771.5 444.9C772.6 443.0 773.6 440.9 774.6 438.8C775.6 436.6 776.7 434.4 777.7 432.1C778.7 429.8 779.7 427.4 780.8 424.9C781.8 422.4 782.8 419.9 783.8 417.2C784.9 414.5 785.9 411.7 786.9 408.9C787.9 406.0 789.0 403.0 790.0 400.0C791.0 396.9 792.1 393.8 793.1 390.5C794.1 387.3 795.1 384.0 796.2 380.6C797.2 377.2 798.2 373.7 799.2 370.2C800.3 366.7 801.3 363.1 802.3 359.5C803.3 355.8 804.4 352.2 805.4 348.5C806.4 344.8 807.4 341.0 808.5 337.3C809.5 333.6 810.5 329.8 811.5 326.0C812.6 322.3 813.6 318.5 814.6 314.7C815.6 311.0 816.7 307.2 817.7 303.5C818.7 299.8 819.7 296.1 820.8 292.4C821.8 288.7 822.8 285.1 823.8 281.5C824.9 277.9 825.9 274.4 826.9 270.9C827.9 267.4 829.0 264.0 830.0 260.7C831.0 257.3 832.1 254.1 833.1 250.9C834.1 247.7 835.1 244.6 836.2 241.6C837.2 238.7 838.2 235.8 839.2 233.0C840.3 230.3 841.3 227.7 842.3 225.1C843.3 222.6 844.4 220.3 845.4 218.0C846.4 215.7 847.4 213.6 848.5 211.6C849.5 209.6 850.5 207.8 851.5 206.0C852.6 204.3 853.6 202.7 854.6 201.3C855.6 199.9 856.7 198.6 857.7 197.4C858.7 196.2 859.7 195.2 860.8 194.3C861.8 193.4 862.8 192.6 863.8 192.0C864.9 191.3 865.9 190.8 866.9 190.4C867.9 190.0 869.0 189.6 870.0 189.4C871.0 189.2 872.1 189.1 873.1 189.1C874.1 189.1 875.1 189.1 876.2 189.3C877.2 189.4 878.2 189.7 879.2 190.0C880.3 190.3 881.3 190.7 882.3 191.2C883.3 191.6 884.4 192.1 885.4 192.7C886.4 193.3 887.4 193.9 888.5 194.6C889.5 195.3 890.5 196.0 891.5 196.8C892.6 197.6 893.6 198.4 894.6 199.3C895.6 200.1 896.7 201.0 897.7 201.9C898.7 202.8 899.7 203.7 900.8 204.6C901.8 205.6 902.8 206.5 903.8 207.5C904.9 208.5 905.9 209.4 906.9 210.4C907.9 211.4 909.0 212.4 910.0 213.4C911.0 214.4 912.1 215.4 913.1 216.4C914.1 217.4 915.1 218.4 916.2 219.5C917.2 220.5 918.2 221.5 919.2 222.5C920.3 223.6 921.3 224.6 922.3 225.6C923.3 226.6 924.4 227.7 925.4 228.7C926.4 229.7 927.4 230.7 928.5 231.7C929.5 232.8 930.5 233.8 931.5 234.8C932.6 235.8 933.6 236.8 934.6 237.8C935.6 238.8 936.7 239.8 937.7 240.8C938.7 241.7 939.7 242.7 940.8 243.7C941.8 244.6 942.8 245.6 943.8 246.5C944.9 247.5 945.9 248.4 946.9 249.3C947.9 250.2 949.0 251.1 950.0 252.0C951.0 252.9 952.1 253.8 953.1 254.7C954.1 255.5 955.1 256.4 956.2 257.3C957.2 258.1 958.2 259.0 959.2 259.8C960.3 260.6 961.3 261.5 962.3 262.3C963.3 263.1 964.4 263.9 965.4 264.7C966.4 265.5 967.4 266.3 968.5 267.1C969.5 267.9 970.5 268.6 971.5 269.4C972.6 270.1 973.6 270.9 974.6 271.6C975.6 272.4 976.7 273.1 977.7 273.8C978.7 274.6 979.7 275.3 980.8 276.0C981.8 276.7 982.8 277.4 983.8 278.1C984.9 278.8 985.9 279.5 986.9 280.1C987.9 280.8 989.0 281.5 990.0 282.2C991.0 282.8 992.1 283.5 993.1 284.1C994.1 284.8 995.1 285.4 996.2 286.0C997.2 286.6 998.2 287.3 999.2 287.9C1000.3 288.5 1001.3 289.1 1002.3 289.7C1003.3 290.3 1004.4 290.9 1005.4 291.5C1006.4 292.1 1007.4 292.6 1008.5 293.2C1009.5 293.8 1010.5 294.4 1011.5 294.9C1012.6 295.5 1013.6 296.0 1014.6 296.6C1015.6 297.1 1016.7 297.7 1017.7 298.2C1018.7 298.7 1019.7 299.2 1020.8 299.8C1021.8 300.3 1022.8 300.8 1023.8 301.3C1024.9 301.8 1025.9 302.3 1026.9 302.8C1027.9 303.3 1029.0 303.8 1030.0 304.3C1031.0 304.8 1032.1 305.3 1033.1 305.7C1034.1 306.2 1035.1 306.7 1036.2 307.2C1037.2 307.6 1038.2 308.1 1039.2 308.5C1040.3 309.0 1041.3 309.4 1042.3 309.9C1043.3 310.3 1044.4 310.8 1045.4 311.2C1046.4 311.7 1047.4 312.1 1048.5 312.5C1049.5 312.9 1050.5 313.4 1051.5 313.8C1052.6 314.2 1053.6 314.6 1054.6 315.0C1055.6 315.4 1056.7 315.9 1057.7 316.3C1058.7 316.7 1059.7 317.1 1060.8 317.5C1061.8 317.9 1062.8 318.2 1063.8 318.6C1064.9 319.0 1065.9 319.4 1066.9 319.8C1067.9 320.2 1069.0 320.6 1070.0 320.9C1071.0 321.3 1072.1 321.7 1073.1 322.1C1074.1 322.4 1075.1 322.8 1076.2 323.2C1077.2 323.5 1078.2 323.9 1079.2 324.2C1080.3 324.6 1081.3 324.9 1082.3 325.3C1083.3 325.6 1084.4 326.0 1085.4 326.3C1086.4 326.7 1087.4 327.0 1088.5 327.3C1089.5 327.7 1090.5 328.0 1091.5 328.4C1092.6 328.7 1093.6 329.0 1094.6 329.3C1095.6 329.7 1096.7 330.0 1097.7 330.3C1098.7 330.6 1099.7 330.9 1100.8 331.3C1101.8 331.6 1102.8 331.9 1103.8 332.2C1104.9 332.5 1105.9 332.8 1106.9 333.1C1107.9 333.4 1109.0 333.7 1110.0 334.0C1111.0 334.3 1112.1 334.6 1113.1 334.9C1114.1 335.2 1115.1 335.5 1116.2 335.7C1117.2 336.0 1118.2 336.3 1119.2 336.6C1120.3 336.9 1121.3 337.2 1122.3 337.4C1123.3 337.7 1124.4 338.0 1125.4 338.2C1126.4 338.5 1127.4 338.8 1128.5 339.0C1129.5 339.3 1130.5 339.6 1131.5 339.8C1132.6 340.1 1133.6 340.4 1134.6 340.6C1135.6 340.9 1136.7 341.1 1137.7 341.4C1138.7 341.6 1139.7 341.9 1140.8 342.1C1141.8 342.4 1142.8 342.6 1143.8 342.9C1144.9 343.1 1145.9 343.3 1146.9 343.6C1147.9 343.8 1149.0 344.0 1150.0 344.3C1151.0 344.5 1152.1 344.7 1153.1 345.0C1154.1 345.2 1155.1 345.4 1156.2 345.7C1157.2 345.9 1158.2 346.1 1159.2 346.3C1160.3 346.6 1161.3 346.8 1162.3 347.0C1163.3 347.2 1164.4 347.4 1165.4 347.6C1166.4 347.9 1167.4 348.1 1168.5 348.3C1169.5 348.5 1170.5 348.7 1171.5 348.9C1172.6 349.1 1173.6 349.3 1174.6 349.5C1175.6 349.7 1176.7 349.9 1177.7 350.1C1178.7 350.3 1179.7 350.5 1180.8 350.7C1181.8 350.9 1182.8 351.1 1183.8 351.3C1184.9 351.5 1185.9 351.7 1186.9 351.9C1187.9 352.1 1189.0 352.3 1190.0 352.4C1191.0 352.6 1192.1 352.8 1193.1 353.0C1194.1 353.2 1195.1 353.4 1196.2 353.6C1197.2 353.7 1198.2 353.9 1199.2 354.1C1200.3 354.3 1201.3 354.5 1202.3 354.6C1203.3 354.8 1204.4 355.0 1205.4 355.2C1206.4 355.3 1207.4 355.5 1208.5 355.7C1209.5 355.8 1210.5 356.0 1211.5 356.2C1212.6 356.4 1213.6 356.5 1214.6 356.7C1215.6 356.9 1216.7 357.0 1217.7 357.2C1218.7 357.3 1219.7 357.5 1220.8 357.7C1221.8 357.8 1222.8 358.0 1223.8 358.1C1224.9 358.3 1225.9 358.5 1226.9 358.6C1227.9 358.8 1229.0 358.9 1230.0 359.1C1231.0 359.2 1232.1 359.4 1233.1 359.5C1234.1 359.7 1235.1 359.8 1236.2 360.0C1237.2 360.1 1238.2 360.3 1239.2 360.4C1240.3 360.6 1241.3 360.7 1242.3 360.9C1243.3 361.0 1244.4 361.1 1245.4 361.3C1246.4 361.4 1247.4 361.6 1248.5 361.7C1249.5 361.8 1250.5 362.0 1251.5 362.1C1252.6 362.3 1253.6 362.4 1254.6 362.5C1255.6 362.7 1256.7 362.8 1257.7 362.9C1258.7 363.0 1259.7 363.2 1260.8 363.3C1261.8 363.4 1262.8 363.6 1263.8 363.7C1264.9 363.8 1265.9 363.9 1266.9 364.0C1267.9 364.2 1269.0 364.3 1270.0 364.4C1271.0 364.5 1272.1 364.6 1273.1 364.8C1274.1 364.9 1275.1 365.0 1276.2 365.1C1277.2 365.2 1278.2 365.3 1279.2 365.5C1280.3 365.6 1281.3 365.7 1282.3 365.8C1283.3 365.9 1284.4 366.0 1285.4 366.1C1286.4 366.2 1287.4 366.3 1288.5 366.4C1289.5 366.5 1290.5 366.6 1291.5 366.7C1292.6 366.8 1293.6 366.9 1294.6 367.0C1295.6 367.1 1296.7 367.2 1297.7 367.3C1298.7 367.4 1299.7 367.5 1300.8 367.6C1301.8 367.7 1302.8 367.8 1303.8 367.9C1304.9 368.0 1305.9 368.1 1306.9 368.2C1307.9 368.2 1309.0 368.3 1310.0 368.4C1311.0 368.5 1312.1 368.6 1313.1 368.7C1314.1 368.8 1315.1 368.8 1316.2 368.9C1317.2 369.0 1318.2 369.1 1319.2 369.2C1320.3 369.2 1321.3 369.3 1322.3 369.4C1323.3 369.5 1324.4 369.5 1325.4 369.6C1326.4 369.7 1327.4 369.8 1328.5 369.8C1329.5 369.9 1330.5 370.0 1331.5 370.0C1332.6 370.1 1333.6 370.2 1334.6 370.2C1335.6 370.3 1336.7 370.4 1337.7 370.4C1338.7 370.5 1339.7 370.5 1340.8 370.6C1341.8 370.7 1342.8 370.7 1343.8 370.8C1344.9 370.8 1345.9 370.9 1346.9 370.9C1347.9 371.0 1349.0 371.1 1350.0 371.1C1351.0 371.2 1352.1 371.2 1353.1 371.3C1354.1 371.3 1355.1 371.4 1356.2 371.4C1357.2 371.5 1358.2 371.5 1359.2 371.5C1360.3 371.6 1361.3 371.6 1362.3 371.7C1363.3 371.7 1364.4 371.8 1365.4 371.8C1366.4 371.8 1367.4 371.9 1368.5 371.9C1369.5 371.9 1370.5 372.0 1371.5 372.0C1372.6 372.0 1373.6 372.1 1374.6 372.1C1375.6 372.1 1376.7 372.2 1377.7 372.2C1378.7 372.2 1379.7 372.2 1380.8 372.3C1381.8 372.3 1382.8 372.3 1383.8 372.3C1384.9 372.4 1385.9 372.4 1386.9 372.4C1387.9 372.4 1389.0 372.5 1390.0 372.5C1391.0 372.5 1392.1 372.5 1393.1 372.5C1394.1 372.5 1395.1 372.6 1396.2 372.6C1397.2 372.6 1398.2 372.6 1399.2 372.6C1400.3 372.6 1401.3 372.6 1402.3 372.6C1403.3 372.6 1404.4 372.6 1405.4 372.6C1406.4 372.6 1407.4 372.7 1408.5 372.7C1409.5 372.7 1410.5 372.7 1411.5 372.7C1412.6 372.7 1413.6 372.7 1414.6 372.7C1415.6 372.6 1416.7 372.6 1417.7 372.6C1418.7 372.6 1419.7 372.6 1420.8 372.6C1421.8 372.6 1422.8 372.6 1423.8 372.6C1424.9 372.6 1425.9 372.6 1426.9 372.6C1427.9 372.5 1429.0 372.5 1430.0 372.5C1431.0 372.5 1432.1 372.5 1433.1 372.5C1434.1 372.4 1435.1 372.4 1436.2 372.4C1437.2 372.4 1438.2 372.4 1439.2 372.3C1440.3 372.3 1441.3 372.3 1442.3 372.3C1443.3 372.2 1444.4 372.2 1445.4 372.2C1446.4 372.1 1447.4 372.1 1448.5 372.1C1449.5 372.0 1450.5 372.0 1451.5 372.0C1452.6 371.9 1453.6 371.9 1454.6 371.9C1455.6 371.8 1456.7 371.8 1457.7 371.8C1458.7 371.7 1459.7 371.7 1460.8 371.6C1461.8 371.6 1462.8 371.5 1463.8 371.5C1464.9 371.5 1465.9 371.4 1466.9 371.4C1467.9 371.3 1469.0 371.3 1470.0 371.2C1471.0 371.2 1472.1 371.1 1473.1 371.1C1473.5 371.0 1473.8 371.0 1474.2 371.0"/>
<path stroke="#A5A5A5" d="M1474.2 371.7C1473.8 372.1 1473.5 372.4 1473.1 372.8C1472.1 373.7 1471.0 374.7 1470.0 375.6C1469.0 376.5 1467.9 377.3 1466.9 378.2C1465.9 379.0 1464.9 379.8 1463.8 380.6C1462.8 381.4 1461.8 382.1 1460.8 382.9C1459.7 383.6 1458.7 384.3 1457.7 385.0C1456.7 385.6 1455.6 386.3 1454.6 386.9C1453.6 387.6 1452.6 388.2 1451.5 388.7C1450.5 389.3 1449.5 389.9 1448.5 390.4C1447.4 391.0 1446.4 391.5 1445.4 392.0C1444.4 392.5 1443.3 393.0 1442.3 393.5C1441.3 394.0 1440.3 394.4 1439.2 394.9C1438.2 395.3 1437.2 395.7 1436.2 396.2C1435.1 396.6 1434.1 397.0 1433.1 397.4C1432.1 397.7 1431.0 398.1 1430.0 398.5C1429.0 398.8 1427.9 399.2 1426.9 399.5C1425.9 399.9 1424.9 400.2 1423.8 400.5C1422.8 400.9 1421.8 401.2 1420.8 401.5C1419.7 401.8 1418.7 402.1 1417.7 402.4C1416.7 402.7 1415.6 403.0 1414.6 403.3C1413.6 403.6 1412.6 403.8 1411.5 404.1C1410.5 404.4 1409.5 404.7 1408.5 404.9C1407.4 405.2 1406.4 405.4 1405.4 405.7C1404.4 405.9 1403.3 406.2 1402.3 406.4C1401.3 406.7 1400.3 406.9 1399.2 407.1C1398.2 407.4 1397.2 407.6 1396.2 407.8C1395.1 408.0 1394.1 408.3 1393.1 408.5C1392.1 408.7 1391.0 408.9 1390.0 409.1C1389.0 409.3 1387.9 409.5 1386.9 409.7C1385.9 409.9 1384.9 410.1 1383.8 410.2C1382.8 410.4 1381.8 410.6 1380.8 410.8C1379.7 411.0 1378.7 411.1 1377.7 411.3C1376.7 411.5 1375.6 411.6 1374.6 411.8C1373.6 412.0 1372.6 412.1 1371.5 412.3C1370.5 412.4 1369.5 412.6 1368.5 412.7C1367.4 412.9 1366.4 413.0 1365.4 413.1C1364.4 413.3 1363.3 413.4 1362.3 413.6C1361.3 413.7 1360.3 413.8 1359.2 414.0C1358.2 414.1 1357.2 414.2 1356.2 414.3C1355.1 414.5 1354.1 414.6 1353.1 414.7C1352.1 414.8 1351.0 414.9 1350.0 415.1C1349.0 415.2 1347.9 415.3 1346.9 415.4C1345.9 415.5 1344.9 415.6 1343.8 415.7C1342.8 415.8 1341.8 416.0 1340.8 416.1C1339.7 416.2 1338.7 416.3 1337.7 416.4C1336.7 416.5 1335.6 416.6 1334.6 416.7C1333.6 416.8 1332.6 416.9 1331.5 417.0C1330.5 417.1 1329.5 417.2 1328.5 417.3C1327.4 417.4 1326.4 417.5 1325.4 417.6C1324.4 417.6 1323.3 417.7 1322.3 417.8C1321.3 417.9 1320.3 418.0 1319.2 418.1C1318.2 418.2 1317.2 418.3 1316.2 418.4C1315.1 418.5 1314.1 418.6 1313.1 418.7C1312.1 418.8 1311.0 418.9 1310.0 419.0C1309.0 419.0 1307.9 419.1 1306.9 419.2C1305.9 419.3 1304.9 419.4 1303.8 419.5C1302.8 419.6 1301.8 419.7 1300.8 419.8C1299.7 419.9 1298.7 419.9 1297.7 420.0C1296.7 420.1 1295.6 420.2 1294.6 420.3C1293.6 420.4 1292.6 420.5 1291.5 420.6C1290.5 420.6 1289.5 420.7 1288.5 420.8C1287.4 420.9 1286.4 421.0 1285.4 421.1C1284.4 421.2 1283.3 421.2 1282.3 421.3C1281.3 421.4 1280.3 421.5 1279.2 421.6C1278.2 421.7 1277.2 421.8 1276.2 421.8C1275.1 421.9 1274.1 422.0 1273.1 422.1C1272.1 422.2 1271.0 422.3 1270.0 422.3C1269.0 422.4 1267.9 422.5 1266.9 422.6C1265.9 422.7 1264.9 422.8 1263.8 422.8C1262.8 422.9 1261.8 423.0 1260.8 423.1C1259.7 423.2 1258.7 423.2 1257.7 423.3C1256.7 423.4 1255.6 423.5 1254.6 423.6C1253.6 423.6 1252.6 423.7 1251.5 423.8C1250.5 423.9 1249.5 424.0 1248.5 424.0C1247.4 424.1 1246.4 424.2 1245.4 424.3C1244.4 424.4 1243.3 424.4 1242.3 424.5C1241.3 424.6 1240.3 424.7 1239.2 424.8C1238.2 424.8 1237.2 424.9 1236.2 425.0C1235.1 425.1 1234.1 425.1 1233.1 425.2C1232.1 425.3 1231.0 425.4 1230.0 425.5C1229.0 425.5 1227.9 425.6 1226.9 425.7C1225.9 425.8 1224.9 425.8 1223.8 425.9C1222.8 426.0 1221.8 426.1 1220.8 426.1C1219.7 426.2 1218.7 426.3 1217.7 426.4C1216.7 426.4 1215.6 426.5 1214.6 426.6C1213.6 426.7 1212.6 426.7 1211.5 426.8C1210.5 426.9 1209.5 427.0 1208.5 427.0C1207.4 427.1 1206.4 427.2 1205.4 427.3C1204.4 427.3 1203.3 427.4 1202.3 427.5C1201.3 427.6 1200.3 427.6 1199.2 427.7C1198.2 427.8 1197.2 427.9 1196.2 427.9C1195.1 428.0 1194.1 428.1 1193.1 428.2C1192.1 428.2 1191.0 428.3 1190.0 428.4C1189.0 428.5 1187.9 428.5 1186.9 428.6C1185.9 428.7 1184.9 428.8 1183.8 428.8C1182.8 428.9 1181.8 429.0 1180.8 429.0C1179.7 429.1 1178.7 429.2 1177.7 429.3C1176.7 429.3 1175.6 429.4 1174.6 429.5C1173.6 429.6 1172.6 429.6 1171.5 429.7C1170.5 429.8 1169.5 429.8 1168.5 429.9C1167.4 430.0 1166.4 430.1 1165.4 430.1C1164.4 430.2 1163.3 430.3 1162.3 430.4C1161.3 430.4 1160.3 430.5 1159.2 430.6C1158.2 430.6 1157.2 430.7 1156.2 430.8C1155.1 430.9 1154.1 430.9 1153.1 431.0C1152.1 431.1 1151.0 431.1 1150.0 431.2C1149.0 431.3 1147.9 431.4 1146.9 431.4C1145.9 431.5 1144.9 431.6 1143.8 431.7C1142.8 431.7 1141.8 431.8 1140.8 431.9C1139.7 431.9 1138.7 432.0 1137.7 432.1C1136.7 432.2 1135.6 432.2 1134.6 432.3C1133.6 432.4 1132.6 432.5 1131.5 432.5C1130.5 432.6 1129.5 432.7 1128.5 432.7C1127.4 432.8 1126.4 432.9 1125.4 433.0C1124.4 433.0 1123.3 433.1 1122.3 433.2C1121.3 433.3 1120.3 433.3 1119.2 433.4C1118.2 433.5 1117.2 433.5 1116.2 433.6C1115.1 433.7 1114.1 433.8 1113.1 433.8C1112.1 433.9 1111.0 434.0 1110.0 434.1C1109.0 434.1 1107.9 434.2 1106.9 434.3C1105.9 434.4 1104.9 434.4 1103.8 434.5C1102.8 434.6 1101.8 434.6 1100.8 434.7C1099.7 434.8 1098.7 434.9 1097.7 434.9C1096.7 435.0 1095.6 435.1 1094.6 435.2C1093.6 435.2 1092.6 435.3 1091.5 435.4C1090.5 435.5 1089.5 435.5 1088.5 435.6C1087.4 435.7 1086.4 435.8 1085.4 435.8C1084.4 435.9 1083.3 436.0 1082.3 436.1C1081.3 436.1 1080.3 436.2 1079.2 436.3C1078.2 436.4 1077.2 436.4 1076.2 436.5C1075.1 436.6 1074.1 436.7 1073.1 436.8C1072.1 436.8 1071.0 436.9 1070.0 437.0C1069.0 437.1 1067.9 437.1 1066.9 437.2C1065.9 437.3 1064.9 437.4 1063.8 437.5C1062.8 437.5 1061.8 437.6 1060.8 437.7C1059.7 437.8 1058.7 437.8 1057.7 437.9C1056.7 438.0 1055.6 438.1 1054.6 438.2C1053.6 438.2 1052.6 438.3 1051.5 438.4C1050.5 438.5 1049.5 438.6 1048.5 438.6C1047.4 438.7 1046.4 438.8 1045.4 438.9C1044.4 439.0 1043.3 439.0 1042.3 439.1C1041.3 439.2 1040.3 439.3 1039.2 439.4C1038.2 439.5 1037.2 439.6 1036.2 439.6C1035.1 439.7 1034.1 439.8 1033.1 439.9C1032.1 440.0 1031.0 440.1 1030.0 440.2C1029.0 440.2 1027.9 440.3 1026.9 440.4C1025.9 440.5 1024.9 440.6 1023.8 440.7C1022.8 440.8 1021.8 440.9 1020.8 441.0C1019.7 441.1 1018.7 441.2 1017.7 441.3C1016.7 441.4 1015.6 441.4 1014.6 441.5C1013.6 441.6 1012.6 441.7 1011.5 441.8C1010.5 441.9 1009.5 442.0 1008.5 442.1C1007.4 442.2 1006.4 442.3 1005.4 442.5C1004.4 442.6 1003.3 442.7 1002.3 442.8C1001.3 442.9 1000.3 443.0 999.2 443.1C998.2 443.2 997.2 443.3 996.2 443.4C995.1 443.5 994.1 443.7 993.1 443.8C992.1 443.9 991.0 444.0 990.0 444.1C989.0 444.2 987.9 444.4 986.9 444.5C985.9 444.6 984.9 444.7 983.8 444.8C982.8 445.0 981.8 445.1 980.8 445.2C979.7 445.4 978.7 445.5 977.7 445.6C976.7 445.7 975.6 445.9 974.6 446.0C973.6 446.1 972.6 446.3 971.5 446.4C970.5 446.6 969.5 446.7 968.5 446.8C967.4 447.0 966.4 447.1 965.4 447.3C964.4 447.4 963.3 447.6 962.3 447.7C961.3 447.9 960.3 448.0 959.2 448.2C958.2 448.3 957.2 448.5 956.2 448.6C955.1 448.8 954.1 449.0 953.1 449.1C952.1 449.3 951.0 449.5 950.0 449.6C949.0 449.8 947.9 450.0 946.9 450.1C945.9 450.3 944.9 450.5 943.8 450.7C942.8 450.9 941.8 451.1 940.8 451.3C939.7 451.5 938.7 451.7 937.7 451.9C936.7 452.1 935.6 452.4 934.6 452.6C933.6 452.8 932.6 453.1 931.5 453.3C930.5 453.6 929.5 453.8 928.5 454.1C927.4 454.4 926.4 454.6 925.4 454.9C924.4 455.2 923.3 455.5 922.3 455.9C921.3 456.2 920.3 456.5 919.2 456.8C918.2 457.2 917.2 457.6 916.2 457.9C915.1 458.3 914.1 458.7 913.1 459.1C912.1 459.5 911.0 459.9 910.0 460.3C909.0 460.8 907.9 461.2 906.9 461.7C905.9 462.1 904.9 462.6 903.8 463.1C902.8 463.6 901.8 464.1 900.8 464.7C899.7 465.2 898.7 465.8 897.7 466.4C896.7 466.9 895.6 467.5 894.6 468.2C893.6 468.8 892.6 469.4 891.5 470.1C890.5 470.7 889.5 471.4 888.5 472.1C887.4 472.8 886.4 473.6 885.4 474.3C884.4 475.1 883.3 475.8 882.3 476.7C881.3 477.5 880.3 478.4 879.2 479.3C878.2 480.2 877.2 481.2 876.2 482.3C875.1 483.3 874.1 484.5 873.1 485.7C872.1 487.0 871.0 488.3 870.0 489.8C869.0 491.3 867.9 492.9 866.9 494.6C865.9 496.3 864.9 498.1 863.8 500.0C862.8 502.0 861.8 504.0 860.8 506.1C859.7 508.3 858.7 510.5 857.7 512.9C856.7 515.2 855.6 517.7 854.6 520.2C853.6 522.8 852.6 525.4 851.5 528.1C850.5 530.9 849.5 533.7 848.5 536.6C847.4 539.5 846.4 542.5 845.4 545.6C844.4 548.6 843.3 551.8 842.3 555.0C841.3 558.2 840.3 561.5 839.2 564.9C838.2 568.2 837.2 571.7 836.2 575.2C835.1 578.7 834.1 582.2 833.1 585.8C832.1 589.4 831.0 593.1 830.0 596.8C829.0 600.6 827.9 604.3 826.9 608.1C825.9 611.9 824.9 615.7 823.8 619.5C822.8 623.4 821.8 627.2 820.8 631.0C819.7 634.8 818.7 638.6 817.7 642.4C816.7 646.1 815.6 649.9 814.6 653.5C813.6 657.2 812.6 660.8 811.5 664.4C810.5 668.0 809.5 671.4 808.5 674.9C807.4 678.3 806.4 681.6 805.4 684.8C804.4 688.1 803.3 691.3 802.3 694.3C801.3 697.4 800.3 700.4 799.2 703.3C798.2 706.1 797.2 708.9 796.2 711.6C795.1 714.3 794.1 716.8 793.1 719.3C792.1 721.7 791.0 724.1 790.0 726.3C789.0 728.5 787.9 730.6 786.9 732.6C785.9 734.6 784.9 736.4 783.8 738.1C782.8 739.8 781.8 741.4 780.8 742.8C779.7 744.2 778.7 745.5 777.7 746.6C776.7 747.8 775.6 748.8 774.6 749.6C773.6 750.5 772.6 751.2 771.5 751.9C770.5 752.5 769.5 753.0 768.5 753.3C767.4 753.7 766.4 754.0 765.4 754.1C764.4 754.3 763.3 754.3 762.3 754.3C761.3 754.2 760.3 754.1 759.2 753.9C758.2 753.6 757.2 753.3 756.2 752.9C755.1 752.5 754.1 752.0 753.1 751.4C752.1 750.9 751.0 750.2 750.0 749.5C749.0 748.8 747.9 748.0 746.9 747.2C745.9 746.4 744.9 745.5 743.8 744.6C742.8 743.7 741.8 742.7 740.8 741.7C739.7 740.6 738.7 739.6 737.7 738.5C736.7 737.4 735.6 736.3 734.6 735.1C733.6 734.0 732.6 732.8 731.5 731.6C730.5 730.4 729.5 729.2 728.5 728.0C727.4 726.8 726.4 725.5 725.4 724.3C724.4 723.1 723.3 721.9 722.3 720.7C721.3 719.4 720.3 718.2 719.2 717.0C718.2 715.9 717.2 714.7 716.2 713.5C715.1 712.4 714.1 711.2 713.1 710.1C712.1 709.0 711.0 707.9 710.0 706.8C709.0 705.8 707.9 704.7 706.9 703.7C705.9 702.6 704.9 701.6 703.8 700.6C702.8 699.6 701.8 698.6 700.8 697.6C699.7 696.6 698.7 695.6 697.7 694.7C696.7 693.8 695.6 692.8 694.6 691.9C693.6 691.0 692.6 690.1 691.5 689.2C690.5 688.3 689.5 687.5 688.5 686.6C687.4 685.7 686.4 684.9 685.4 684.1C684.4 683.2 683.3 682.4 682.3 681.6C681.3 680.8 680.3 680.0 679.2 679.3C678.2 678.5 677.2 677.7 676.2 677.0C675.1 676.2 674.1 675.5 673.1 674.8C672.1 674.0 671.0 673.3 670.0 672.6C669.0 671.9 667.9 671.2 666.9 670.6C665.9 669.9 664.9 669.2 663.8 668.6C662.8 667.9 661.8 667.3 660.8 666.6C659.7 666.0 658.7 665.4 657.7 664.8C656.7 664.1 655.6 663.5 654.6 662.9C653.6 662.3 652.6 661.7 651.5 661.2C650.5 660.6 649.5 660.0 648.5 659.5C647.4 658.9 646.4 658.3 645.4 657.8C644.4 657.3 643.3 656.7 642.3 656.2C641.3 655.7 640.3 655.1 639.2 654.6C638.2 654.1 637.2 653.6 636.2 653.1C635.1 652.6 634.1 652.1 633.1 651.6C632.1 651.1 631.0 650.6 630.0 650.2C629.0 649.7 627.9 649.2 626.9 648.8C625.9 648.3 624.9 647.9 623.8 647.4C622.8 647.0 621.8 646.5 620.8 646.1C619.7 645.7 618.7 645.2 617.7 644.8C616.7 644.4 615.6 644.0 614.6 643.6C613.6 643.2 612.6 642.8 611.5 642.4C610.5 642.0 609.5 641.6 608.5 641.2C607.4 640.8 606.4 640.4 605.4 640.1C604.4 639.7 603.3 639.3 602.3 639.0C601.3 638.6 600.3 638.3 599.2 637.9C598.2 637.6 597.2 637.2 596.2 636.9C595.1 636.6 594.1 636.2 593.1 635.9C592.1 635.6 591.0 635.3 590.0 634.9C589.0 634.6 587.9 634.3 586.9 634.0C585.9 633.7 584.9 633.4 583.8 633.1C582.8 632.8 581.8 632.5 580.8 632.3C579.7 632.0 578.7 631.7 577.7 631.4C576.7 631.2 575.6 630.9 574.6 630.6C573.6 630.4 572.6 630.1 571.5 629.9C570.5 629.6 569.5 629.4 568.5 629.1C567.4 628.9 566.4 628.6 565.4 628.4C564.4 628.2 563.3 627.9 562.3 627.7C561.3 627.5 560.3 627.3 559.2 627.1C558.2 626.8 557.2 626.6 556.2 626.4C555.1 626.2 554.1 626.0 553.1 625.8C552.1 625.6 551.0 625.4 550.0 625.2C549.0 625.0 547.9 624.9 546.9 624.7C545.9 624.5 544.9 624.3 543.8 624.1C542.8 624.0 541.8 623.8 540.8 623.6C539.7 623.5 538.7 623.3 537.7 623.1C536.7 623.0 535.6 622.8 534.6 622.7C533.6 622.5 532.6 622.4 531.5 622.2C530.5 622.1 529.5 621.9 528.5 621.8C527.4 621.6 526.4 621.5 525.4 621.4C524.4 621.2 523.3 621.1 522.3 621.0C521.3 620.9 520.3 620.7 519.2 620.6C518.2 620.5 517.2 620.4 516.2 620.3C515.1 620.1 514.1 620.0 513.1 619.9C512.1 619.8 511.0 619.7 510.0 619.6C509.0 619.5 507.9 619.4 506.9 619.3C505.9 619.2 504.9 619.1 503.8 619.0C502.8 618.9 501.8 618.8 500.8 618.7C499.7 618.6 498.7 618.5 497.7 618.4C496.7 618.4 495.6 618.3 494.6 618.2C493.6 618.1 492.6 618.0 491.5 618.0C490.5 617.9 489.5 617.8 488.5 617.8C487.4 617.7 486.4 617.6 485.4 617.6C484.4 617.5 483.3 617.4 482.3 617.4C481.3 617.3 480.3 617.3 479.2 617.2C478.2 617.2 477.2 617.2 476.2 617.1C475.1 617.1 474.1 617.0 473.1 617.0C472.1 617.0 471.0 616.9 470.0 616.9C469.0 616.9 467.9 616.9 466.9 616.9C465.9 616.9 464.9 616.9 463.8 616.8C462.8 616.8 461.8 616.8 460.8 616.8C459.7 616.9 458.7 616.9 457.7 616.9C456.7 616.9 455.6 616.9 454.6 616.9C453.6 617.0 452.6 617.0 451.5 617.0C450.5 617.1 449.5 617.1 448.5 617.2C447.4 617.2 446.4 617.3 445.4 617.3C444.4 617.4 443.3 617.4 442.3 617.5C441.3 617.6 440.3 617.7 439.2 617.7C438.2 617.8 437.2 617.9 436.2 618.0C435.1 618.1 434.1 618.2 433.1 618.3C432.1 618.4 431.0 618.5 430.0 618.7C429.0 618.8 427.9 618.9 426.9 619.1C425.9 619.2 424.9 619.3 423.8 619.5C422.8 619.6 421.8 619.8 420.8 620.0C419.7 620.1 418.7 620.3 417.7 620.5C416.7 620.6 415.6 620.8 414.6 621.0C413.6 621.2 412.6 621.4 411.5 621.6C410.5 621.8 409.5 622.1 408.5 622.3C407.4 622.5 406.4 622.8 405.4 623.0C404.4 623.2 403.3 623.5 402.3 623.7C401.3 624.0 400.3 624.3 399.2 624.5C398.2 624.8 397.2 625.1 396.2 625.4C395.1 625.7 394.1 626.0 393.1 626.3C392.1 626.6 391.0 626.9 390.0 627.3C389.0 627.6 387.9 627.9 386.9 628.3C385.9 628.6 384.9 629.0 383.8 629.4C382.8 629.7 381.8 630.1 380.8 630.5C379.7 630.9 378.7 631.3 377.7 631.7C376.7 632.1 375.6 632.5 374.6 633.0C373.6 633.4 372.6 633.8 371.5 634.3C370.5 634.8 369.5 635.2 368.5 635.7C367.4 636.2 366.4 636.7 365.4 637.2C364.4 637.7 363.3 638.3 362.3 638.8C361.3 639.4 360.3 639.9 359.2 640.5C358.2 641.1 357.2 641.7 356.2 642.3C355.1 642.9 354.1 643.5 353.1 644.2C352.1 644.8 351.0 645.5 350.0 646.2C349.0 646.9 347.9 647.6 346.9 648.3C345.9 649.0 344.9 649.8 343.8 650.5C342.8 651.3 341.8 652.1 340.8 652.9C339.7 653.7 338.7 654.6 337.7 655.4C336.7 656.3 335.6 657.1 334.6 658.1C333.6 659.0 332.6 659.9 331.5 660.8C330.5 661.8 329.5 662.8 328.5 663.8C327.4 664.8 326.4 665.8 325.4 666.8C324.4 667.9 323.3 669.0 322.3 670.1C321.3 671.2 320.3 672.3 319.2 673.5C318.2 674.6 317.2 675.8 316.2 677.0C315.1 678.3 314.1 679.5 313.1 680.8C312.1 682.1 311.0 683.4 310.0 684.7C309.0 686.0 307.9 687.4 306.9 688.8C305.9 690.2 304.9 691.6 303.8 693.1C302.8 694.6 301.8 696.1 300.8 697.6C299.7 699.1 298.7 700.7 297.7 702.3C296.7 703.9 295.6 705.5 294.6 707.2C293.6 708.9 292.6 710.6 291.5 712.3C290.5 714.1 289.5 715.9 288.5 717.7C287.4 719.5 286.4 721.4 285.4 723.3C284.4 725.2 283.3 727.2 282.3 729.2C281.3 731.2 280.3 733.3 279.2 735.4C278.2 737.5 277.2 739.7 276.2 741.9C275.1 744.1 274.1 746.4 273.1 748.7C272.1 751.0 271.0 753.4 270.0 755.9C269.0 758.3 267.9 760.8 266.9 763.3C265.9 765.9 264.9 768.5 263.8 771.2C262.8 773.9 261.8 776.6 260.8 779.4C259.7 782.2 258.7 785.1 257.7 788.0C256.7 791.0 255.6 794.0 254.6 797.1C253.6 800.1 252.6 803.3 251.5 806.5C250.5 809.7 249.5 813.0 248.5 816.4C247.4 819.8 246.4 823.2 245.4 826.7C244.4 830.3 243.3 833.9 242.3 837.5C241.3 841.2 240.3 845.0 239.2 848.8C238.2 852.7 237.2 856.6 236.2 860.6C235.1 864.6 234.1 868.7 233.1 872.9C232.1 877.1 231.0 881.4 230.0 885.7C229.0 890.1 227.9 894.5 226.9 899.1C225.9 903.6 224.9 908.3 223.8 913.0"/>
</g></g>
<g transform="scale(1.3 1)" fill="none" stroke-width="7.3" stroke-linecap="round">
<path stroke="#ED7D31" d="M257.69 132.8H343.69"/>
<path stroke="#FFC000" d="M257.69 234.4H343.69"/>
<path stroke="#A5A5A5" d="M257.69 337.9H343.69"/>
</g>
<g font-family="'Liberation Serif', serif" font-size="66.5" fill="#000" stroke="#000" stroke-width="0.45" stroke-linejoin="round" style="font-kerning:none">
<text y="150"><tspan x="458.1" textLength="43.6" lengthAdjust="spacingAndGlyphs">B</tspan><tspan x="501.8" textLength="42.8" lengthAdjust="spacingAndGlyphs">P</tspan><tspan x="543.0" textLength="53.3" lengthAdjust="spacingAndGlyphs">G</tspan><tspan x="597.4" textLength="44.2" lengthAdjust="spacingAndGlyphs">E</tspan></text>
<text y="253"><tspan x="458.8" textLength="53.2" lengthAdjust="spacingAndGlyphs">A</tspan><tspan x="513.6" textLength="60.8" lengthAdjust="spacingAndGlyphs">m</tspan><tspan x="576.0" textLength="22.4" lengthAdjust="spacingAndGlyphs">-</tspan><tspan x="597.2" textLength="44.5" lengthAdjust="spacingAndGlyphs">P</tspan><tspan x="641.5" textLength="53.6" lengthAdjust="spacingAndGlyphs">G</tspan><tspan x="695.6" textLength="41.3" lengthAdjust="spacingAndGlyphs">E</tspan><tspan x="737.1" textLength="21.8" lengthAdjust="spacingAndGlyphs">-</tspan><tspan x="760.7" textLength="38.4" lengthAdjust="spacingAndGlyphs">2</tspan></text>
<text y="354.5"><tspan x="458.8" textLength="53.2" lengthAdjust="spacingAndGlyphs">A</tspan><tspan x="513.6" textLength="60.8" lengthAdjust="spacingAndGlyphs">m</tspan><tspan x="576.0" textLength="22.4" lengthAdjust="spacingAndGlyphs">-</tspan><tspan x="597.2" textLength="44.5" lengthAdjust="spacingAndGlyphs">P</tspan><tspan x="641.5" textLength="53.6" lengthAdjust="spacingAndGlyphs">G</tspan><tspan x="695.6" textLength="41.3" lengthAdjust="spacingAndGlyphs">E</tspan><tspan x="737.1" textLength="21.8" lengthAdjust="spacingAndGlyphs">-</tspan><tspan x="761.9" textLength="34.2" lengthAdjust="spacingAndGlyphs">1</tspan></text>
<text y="58.6"><tspan x="123.9" textLength="37.6" lengthAdjust="spacingAndGlyphs">1</tspan><tspan x="159.9" textLength="40.2" lengthAdjust="spacingAndGlyphs">5</tspan></text>
<text y="215.9"><tspan x="124.2" textLength="37.1" lengthAdjust="spacingAndGlyphs">1</tspan><tspan x="163.2" textLength="36.7" lengthAdjust="spacingAndGlyphs">0</tspan></text>
<text y="373.2"><tspan x="160.0" textLength="39.7" lengthAdjust="spacingAndGlyphs">5</tspan></text>
<text y="530.6"><tspan x="163.2" textLength="36.3" lengthAdjust="spacingAndGlyphs">0</tspan></text>
<text y="687.9"><tspan x="137.8" textLength="27.3" lengthAdjust="spacingAndGlyphs">-</tspan><tspan x="157.9" textLength="40.1" lengthAdjust="spacingAndGlyphs">5</tspan></text>
<text y="845.2"><tspan x="102.4" textLength="28.2" lengthAdjust="spacingAndGlyphs">-</tspan><tspan x="124.1" textLength="37.4" lengthAdjust="spacingAndGlyphs">1</tspan><tspan x="162.9" textLength="37.4" lengthAdjust="spacingAndGlyphs">0</tspan></text>
<text y="1002.5"><tspan x="102.4" textLength="28.2" lengthAdjust="spacingAndGlyphs">-</tspan><tspan x="124.1" textLength="37.4" lengthAdjust="spacingAndGlyphs">1</tspan><tspan x="159.9" textLength="40.2" lengthAdjust="spacingAndGlyphs">5</tspan></text>
<text y="1092.4"><tspan x="212.8" textLength="27.2" lengthAdjust="spacingAndGlyphs">-</tspan><tspan x="236.3" textLength="36.5" lengthAdjust="spacingAndGlyphs">0</tspan><tspan x="272.7" textLength="19.5" lengthAdjust="spacingAndGlyphs">.</tspan><tspan x="288.4" textLength="41.3" lengthAdjust="spacingAndGlyphs">2</tspan></text>
<text y="1092.4"><tspan x="662.3" textLength="38.2" lengthAdjust="spacingAndGlyphs">0</tspan></text>
<text y="1092.4"><tspan x="1048.9" textLength="36.9" lengthAdjust="spacingAndGlyphs">0</tspan><tspan x="1085.4" textLength="18.8" lengthAdjust="spacingAndGlyphs">.</tspan><tspan x="1097.8" textLength="40.8" lengthAdjust="spacingAndGlyphs">2</tspan></text>
<text y="1092.4"><tspan x="1460.7" textLength="36.8" lengthAdjust="spacingAndGlyphs">0</tspan><tspan x="1496.6" textLength="19.7" lengthAdjust="spacingAndGlyphs">.</tspan><tspan x="1511.8" textLength="35.6" lengthAdjust="spacingAndGlyphs">4</tspan></text>
<text y="1092.4"><tspan x="1871.0" textLength="36.1" lengthAdjust="spacingAndGlyphs">0</tspan><tspan x="1907.6" textLength="18.0" lengthAdjust="spacingAndGlyphs">.</tspan><tspan x="1922.0" textLength="35.9" lengthAdjust="spacingAndGlyphs">6</tspan></text>
</g>
<g font-family="'Liberation Serif', serif" font-size="66" font-weight="bold" fill="#000" style="font-kerning:none">
<text y="1190.5"><tspan x="658.8" textLength="40.3" lengthAdjust="spacingAndGlyphs">E</tspan><tspan x="699.1" textLength="19.6" lengthAdjust="spacingAndGlyphs">/</tspan><tspan x="719.8" textLength="52.9" lengthAdjust="spacingAndGlyphs">V</tspan> <tspan x="792.9" textLength="86.2" lengthAdjust="spacingAndGlyphs">vs.</tspan> <tspan x="897.3" textLength="51.4" lengthAdjust="spacingAndGlyphs">A</tspan><tspan x="950.8" textLength="40.2" lengthAdjust="spacingAndGlyphs">g</tspan><tspan x="988.7" textLength="21.7" lengthAdjust="spacingAndGlyphs">/</tspan><tspan x="1012.9" textLength="51.4" lengthAdjust="spacingAndGlyphs">A</tspan><tspan x="1065.3" textLength="38.8" lengthAdjust="spacingAndGlyphs">g</tspan><tspan x="1104.6" textLength="50.8" lengthAdjust="spacingAndGlyphs">C</tspan><tspan x="1153.0" textLength="24.2" lengthAdjust="spacingAndGlyphs">l</tspan><tspan x="1179.9" textLength="21.3" lengthAdjust="spacingAndGlyphs">(</tspan><tspan x="1200.7" textLength="43.7" lengthAdjust="spacingAndGlyphs">S</tspan><tspan x="1244.8" textLength="32.3" lengthAdjust="spacingAndGlyphs">a</tspan><tspan x="1280.9" textLength="22.4" lengthAdjust="spacingAndGlyphs">t</tspan><tspan x="1302.3" textLength="15.4" lengthAdjust="spacingAndGlyphs">'</tspan><tspan x="1318.7" textLength="41.1" lengthAdjust="spacingAndGlyphs">d</tspan> <tspan x="1380.1" textLength="50.6" lengthAdjust="spacingAndGlyphs">K</tspan><tspan x="1433.6" textLength="53.7" lengthAdjust="spacingAndGlyphs">C</tspan><tspan x="1483.4" textLength="24.2" lengthAdjust="spacingAndGlyphs">l</tspan><tspan x="1508.8" textLength="21.1" lengthAdjust="spacingAndGlyphs">)</tspan></text>
<text y="0" transform="translate(65.5 578) rotate(-90) scale(1 1.135)"><tspan x="-1.6" textLength="23.7" lengthAdjust="spacingAndGlyphs">I</tspan><tspan x="23.0" textLength="17.1" lengthAdjust="spacingAndGlyphs">/</tspan><tspan x="44.4" textLength="39.0" lengthAdjust="spacingAndGlyphs">μ</tspan><tspan x="84.3" textLength="45.3" lengthAdjust="spacingAndGlyphs">A</tspan></text>
</g>
</svg>
</body></html>
